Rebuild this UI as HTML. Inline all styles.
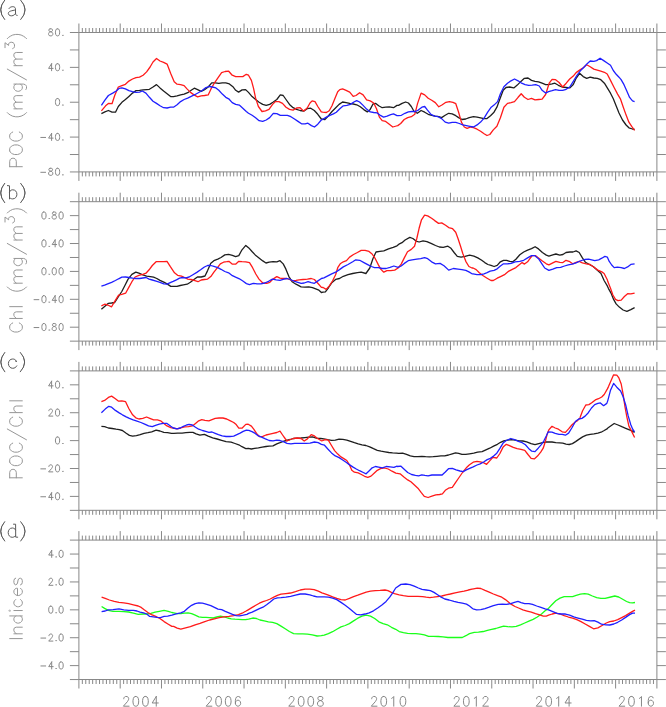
<!DOCTYPE html><html><head><meta charset="utf-8"><style>html,body{margin:0;padding:0;background:#fff;}svg{display:block;}text{font-family:"Liberation Sans",sans-serif;}</style></head><body>
<svg width="666" height="707" viewBox="0 0 666 707">
<rect width="666" height="707" fill="#fff"/>
<clipPath id="c0"><rect x="78.9" y="32.5" width="578.0" height="139.4"/></clipPath>
<g clip-path="url(#c0)" fill="none" stroke-width="1.3" stroke-linejoin="round" stroke-linecap="butt">
<path d="M101.4 113.6 L104.9 111.9 L108.4 110.5 L112.0 112.2 L115.5 112.2 L118.3 106.5 L121.9 102.3 L125.4 99.5 L128.9 96.4 L132.5 93.1 L136.0 90.6 L139.5 90.3 L143.1 89.9 L146.6 89.6 L149.4 89.3 L153.0 87.0 L156.5 84.6 L160.0 87.9 L163.6 91.0 L167.1 93.8 L170.6 96.6 L173.5 96.6 L177.1 95.9 L180.6 94.9 L184.1 94.2 L187.7 92.7 L191.2 90.3 L194.3 88.2 L197.6 89.6 L201.1 91.3 L204.6 89.6 L208.2 87.0 L211.7 82.8 L215.2 82.8 L218.8 83.4 L222.3 82.8 L225.8 82.8 L229.4 83.9 L232.9 86.7 L235.7 90.3 L238.6 92.1 L242.1 89.9 L245.6 89.6 L248.5 92.4 L252.1 96.6 L255.6 99.5 L259.1 102.3 L262.7 104.4 L266.2 105.4 L269.7 104.4 L273.3 102.0 L276.8 99.5 L280.3 94.9 L283.2 95.5 L286.0 99.5 L289.5 104.4 L293.1 107.7 L296.6 109.4 L300.1 110.5 L303.7 111.1 L307.2 108.7 L310.7 108.2 L314.3 110.5 L317.8 114.3 L321.3 119.0 L324.9 119.5 L328.5 115.7 L332.0 111.5 L335.5 108.0 L339.1 104.4 L342.6 102.0 L346.1 102.6 L349.7 103.4 L353.2 104.0 L356.7 104.8 L360.3 106.8 L363.8 109.6 L367.3 111.9 L370.2 109.4 L373.0 104.0 L375.8 103.4 L378.7 105.8 L382.2 107.7 L385.7 107.2 L389.3 106.8 L393.5 107.7 L397.0 105.4 L398.5 105.4 L402.1 103.4 L405.6 102.0 L408.4 103.0 L411.3 106.5 L414.1 111.5 L417.3 113.3 L421.1 110.5 L424.7 112.2 L428.2 114.3 L431.7 115.3 L435.3 116.1 L438.8 116.7 L441.6 117.6 L445.2 115.3 L448.7 113.3 L452.2 113.9 L455.8 115.7 L458.6 117.6 L462.1 119.5 L465.7 119.0 L469.2 117.6 L473.5 116.7 L477.1 117.1 L480.6 117.8 L484.1 118.7 L487.0 118.6 L490.5 115.7 L494.0 112.2 L496.9 107.2 L499.7 99.5 L503.2 90.3 L506.0 87.5 L509.6 87.0 L513.8 87.9 L517.3 85.1 L520.9 81.4 L524.4 78.3 L528.0 78.0 L531.5 80.4 L535.0 81.4 L538.6 81.8 L542.1 83.2 L545.6 84.6 L548.5 84.6 L552.1 83.9 L554.9 83.2 L558.4 85.3 L562.0 87.0 L566.2 87.5 L569.7 87.9 L573.3 84.6 L576.1 78.3 L579.6 73.3 L583.2 76.6 L586.7 78.3 L590.2 77.1 L593.8 78.0 L597.3 78.3 L600.8 79.7 L604.4 83.2 L610.5 93.2 L613.3 98.8 L616.2 105.9 L619.0 113.0 L622.5 120.0 L626.1 125.0 L628.9 127.8 L632.5 129.0 L634.6 129.5" stroke="#1e1e1e"/>
<path d="M101.4 110.8 L105.6 105.8 L108.4 103.4 L112.0 103.7 L114.8 95.2 L118.3 87.0 L121.9 85.6 L125.4 84.3 L128.9 81.1 L132.5 79.0 L136.0 77.6 L139.5 77.1 L143.1 75.2 L146.6 71.9 L150.1 67.0 L153.0 62.0 L156.5 58.5 L160.0 61.0 L163.6 62.4 L167.1 64.1 L170.6 73.3 L174.2 81.8 L177.1 84.2 L180.6 84.6 L184.1 85.6 L187.0 88.9 L190.5 92.4 L194.0 94.9 L197.6 96.9 L201.1 95.9 L204.6 95.5 L208.2 94.9 L211.0 88.9 L214.5 82.8 L218.1 77.6 L221.6 72.6 L225.1 71.5 L228.7 71.2 L232.2 75.2 L235.7 76.6 L239.3 76.6 L242.8 76.6 L246.3 74.3 L248.5 75.2 L251.4 80.4 L253.5 88.2 L255.6 98.1 L258.4 106.5 L262.0 111.5 L265.5 110.8 L269.0 109.4 L272.6 104.4 L275.4 101.6 L278.9 101.6 L282.5 103.4 L286.0 107.2 L289.5 109.4 L293.1 110.1 L296.6 108.0 L300.1 107.7 L303.7 111.1 L307.2 108.0 L310.0 103.0 L312.1 100.9 L315.0 101.6 L317.8 106.5 L321.3 111.9 L322.8 112.2 L326.4 112.5 L329.2 110.8 L332.0 105.8 L334.8 98.8 L337.7 91.7 L339.8 89.6 L342.6 88.9 L346.1 90.3 L349.7 92.1 L353.2 96.4 L356.0 95.5 L359.6 92.7 L363.1 94.9 L366.6 99.8 L370.2 100.9 L373.7 103.0 L376.5 108.7 L379.4 117.1 L382.2 120.7 L385.7 121.4 L389.3 124.2 L392.8 127.0 L396.3 126.0 L397.8 125.6 L400.7 123.5 L404.2 119.5 L407.7 117.6 L411.3 116.7 L414.8 114.3 L417.6 103.4 L421.1 93.1 L424.7 94.9 L428.2 98.3 L431.7 100.2 L435.3 102.6 L438.8 106.8 L442.3 104.8 L445.9 102.3 L449.4 101.6 L453.0 102.3 L455.8 103.7 L458.6 112.2 L461.4 122.1 L464.3 127.0 L467.1 128.4 L470.6 127.0 L473.5 127.7 L477.1 129.2 L480.6 131.3 L484.1 133.7 L487.0 135.5 L489.8 134.5 L493.3 129.9 L496.9 126.3 L500.4 117.8 L503.9 107.2 L507.5 103.4 L511.0 102.6 L514.5 101.6 L518.1 97.3 L521.2 93.8 L524.4 97.3 L528.0 99.5 L531.5 98.3 L535.0 99.8 L538.6 99.5 L542.1 99.2 L545.6 94.5 L549.2 83.2 L552.1 79.4 L555.6 79.7 L559.1 82.5 L562.7 87.0 L566.2 83.2 L569.7 79.0 L573.3 76.1 L576.1 72.6 L579.6 70.1 L583.2 67.7 L586.7 64.8 L590.2 66.7 L593.8 69.1 L597.3 70.1 L600.8 71.2 L604.4 72.3 L607.2 74.0 L610.5 80.4 L614.1 87.5 L617.6 94.1 L620.4 98.8 L623.3 107.3 L626.1 115.1 L628.9 122.2 L631.7 126.4 L634.6 130.4" stroke="#ff1a1a"/>
<path d="M101.4 105.4 L104.9 100.2 L108.4 95.5 L112.7 93.1 L116.2 91.0 L119.0 88.4 L121.9 87.9 L125.4 88.9 L128.9 90.7 L132.5 91.7 L136.0 92.4 L139.5 92.1 L142.3 91.0 L145.9 93.1 L149.4 97.3 L153.0 101.2 L156.5 103.4 L160.0 105.8 L163.6 107.7 L167.1 108.0 L170.6 107.2 L173.5 107.2 L177.1 104.8 L180.6 101.6 L184.1 99.5 L187.7 98.1 L191.2 96.4 L194.7 94.7 L198.3 92.7 L201.8 90.7 L205.3 87.9 L208.9 86.5 L212.4 87.0 L215.9 87.9 L218.8 90.3 L222.3 94.1 L225.8 97.3 L228.7 98.8 L232.2 102.6 L235.7 104.4 L239.3 105.1 L242.8 108.2 L246.3 111.5 L248.5 113.3 L252.1 115.3 L255.6 117.8 L259.1 120.7 L262.7 121.4 L266.2 120.0 L269.7 117.6 L273.3 113.3 L276.8 113.6 L280.3 115.3 L283.9 115.3 L287.4 115.3 L290.9 116.7 L294.5 119.0 L298.0 121.4 L301.5 123.8 L305.1 123.8 L307.9 123.2 L311.4 125.6 L314.5 127.0 L317.8 124.2 L321.3 120.0 L322.8 119.3 L326.4 117.1 L329.9 115.3 L333.4 113.9 L336.3 112.2 L339.8 108.7 L343.3 105.8 L346.9 105.4 L350.4 104.4 L353.9 102.0 L356.7 100.6 L359.6 102.0 L363.1 105.4 L366.6 109.1 L370.2 111.9 L373.7 112.5 L377.2 112.9 L380.8 115.7 L383.6 117.1 L387.1 116.1 L390.7 114.7 L393.5 113.9 L397.0 115.7 L398.5 115.7 L401.4 115.3 L404.9 113.3 L408.4 111.9 L412.0 111.5 L415.5 111.5 L418.3 110.1 L421.9 107.2 L424.7 106.5 L427.5 110.1 L431.0 114.3 L434.6 116.1 L438.1 116.7 L441.6 118.6 L445.2 122.1 L448.7 123.2 L452.2 122.4 L455.8 122.4 L459.3 123.5 L462.8 124.9 L466.4 125.6 L469.9 126.3 L473.5 127.0 L477.1 124.9 L480.6 122.1 L484.1 118.1 L487.7 112.2 L491.2 107.2 L494.0 105.1 L497.6 101.6 L500.4 93.8 L503.9 86.7 L507.5 83.2 L511.0 80.8 L514.5 79.0 L518.1 80.8 L521.6 83.2 L525.1 84.6 L528.7 85.3 L532.2 85.1 L535.7 84.6 L539.3 86.0 L542.1 90.3 L545.6 93.1 L548.5 91.7 L552.1 90.7 L555.6 89.6 L559.1 90.3 L562.7 90.3 L566.2 89.3 L569.7 87.0 L573.3 81.4 L576.8 75.7 L580.3 70.9 L583.9 67.2 L587.4 63.4 L590.2 61.0 L593.8 61.3 L596.6 60.6 L600.1 58.2 L603.7 60.6 L607.2 63.0 L610.5 65.3 L613.3 70.5 L616.2 74.3 L619.0 77.2 L621.1 79.7 L624.0 84.7 L626.8 91.0 L629.6 97.4 L632.5 100.9 L634.6 101.6" stroke="#1f1fff"/>
</g>
<path d="M78.9 32.5H656.9V171.9H78.9ZM78.90 32.5V23.5M78.90 171.9V180.9M82.34 32.5V28.0M82.34 171.9V176.4M85.78 32.5V28.0M85.78 171.9V176.4M89.22 32.5V28.0M89.22 171.9V176.4M92.66 32.5V28.0M92.66 171.9V176.4M96.10 32.5V28.0M96.10 171.9V176.4M99.54 32.5V28.0M99.54 171.9V176.4M102.98 32.5V28.0M102.98 171.9V176.4M106.42 32.5V28.0M106.42 171.9V176.4M109.86 32.5V28.0M109.86 171.9V176.4M113.30 32.5V28.0M113.30 171.9V176.4M116.75 32.5V28.0M116.75 171.9V176.4M120.19 32.5V23.5M120.19 171.9V180.9M123.63 32.5V28.0M123.63 171.9V176.4M127.07 32.5V28.0M127.07 171.9V176.4M130.51 32.5V28.0M130.51 171.9V176.4M133.95 32.5V28.0M133.95 171.9V176.4M137.39 32.5V28.0M137.39 171.9V176.4M140.83 32.5V28.0M140.83 171.9V176.4M144.27 32.5V28.0M144.27 171.9V176.4M147.71 32.5V28.0M147.71 171.9V176.4M151.15 32.5V28.0M151.15 171.9V176.4M154.59 32.5V28.0M154.59 171.9V176.4M158.03 32.5V28.0M158.03 171.9V176.4M161.47 32.5V23.5M161.47 171.9V180.9M164.91 32.5V28.0M164.91 171.9V176.4M168.35 32.5V28.0M168.35 171.9V176.4M171.79 32.5V28.0M171.79 171.9V176.4M175.23 32.5V28.0M175.23 171.9V176.4M178.67 32.5V28.0M178.67 171.9V176.4M182.11 32.5V28.0M182.11 171.9V176.4M185.55 32.5V28.0M185.55 171.9V176.4M189.00 32.5V28.0M189.00 171.9V176.4M192.44 32.5V28.0M192.44 171.9V176.4M195.88 32.5V28.0M195.88 171.9V176.4M199.32 32.5V28.0M199.32 171.9V176.4M202.76 32.5V23.5M202.76 171.9V180.9M206.20 32.5V28.0M206.20 171.9V176.4M209.64 32.5V28.0M209.64 171.9V176.4M213.08 32.5V28.0M213.08 171.9V176.4M216.52 32.5V28.0M216.52 171.9V176.4M219.96 32.5V28.0M219.96 171.9V176.4M223.40 32.5V28.0M223.40 171.9V176.4M226.84 32.5V28.0M226.84 171.9V176.4M230.28 32.5V28.0M230.28 171.9V176.4M233.72 32.5V28.0M233.72 171.9V176.4M237.16 32.5V28.0M237.16 171.9V176.4M240.60 32.5V28.0M240.60 171.9V176.4M244.04 32.5V23.5M244.04 171.9V180.9M247.48 32.5V28.0M247.48 171.9V176.4M250.92 32.5V28.0M250.92 171.9V176.4M254.36 32.5V28.0M254.36 171.9V176.4M257.80 32.5V28.0M257.80 171.9V176.4M261.25 32.5V28.0M261.25 171.9V176.4M264.69 32.5V28.0M264.69 171.9V176.4M268.13 32.5V28.0M268.13 171.9V176.4M271.57 32.5V28.0M271.57 171.9V176.4M275.01 32.5V28.0M275.01 171.9V176.4M278.45 32.5V28.0M278.45 171.9V176.4M281.89 32.5V28.0M281.89 171.9V176.4M285.33 32.5V23.5M285.33 171.9V180.9M288.77 32.5V28.0M288.77 171.9V176.4M292.21 32.5V28.0M292.21 171.9V176.4M295.65 32.5V28.0M295.65 171.9V176.4M299.09 32.5V28.0M299.09 171.9V176.4M302.53 32.5V28.0M302.53 171.9V176.4M305.97 32.5V28.0M305.97 171.9V176.4M309.41 32.5V28.0M309.41 171.9V176.4M312.85 32.5V28.0M312.85 171.9V176.4M316.29 32.5V28.0M316.29 171.9V176.4M319.73 32.5V28.0M319.73 171.9V176.4M323.17 32.5V28.0M323.17 171.9V176.4M326.61 32.5V23.5M326.61 171.9V180.9M330.05 32.5V28.0M330.05 171.9V176.4M333.50 32.5V28.0M333.50 171.9V176.4M336.94 32.5V28.0M336.94 171.9V176.4M340.38 32.5V28.0M340.38 171.9V176.4M343.82 32.5V28.0M343.82 171.9V176.4M347.26 32.5V28.0M347.26 171.9V176.4M350.70 32.5V28.0M350.70 171.9V176.4M354.14 32.5V28.0M354.14 171.9V176.4M357.58 32.5V28.0M357.58 171.9V176.4M361.02 32.5V28.0M361.02 171.9V176.4M364.46 32.5V28.0M364.46 171.9V176.4M367.90 32.5V23.5M367.90 171.9V180.9M371.34 32.5V28.0M371.34 171.9V176.4M374.78 32.5V28.0M374.78 171.9V176.4M378.22 32.5V28.0M378.22 171.9V176.4M381.66 32.5V28.0M381.66 171.9V176.4M385.10 32.5V28.0M385.10 171.9V176.4M388.54 32.5V28.0M388.54 171.9V176.4M391.98 32.5V28.0M391.98 171.9V176.4M395.42 32.5V28.0M395.42 171.9V176.4M398.86 32.5V28.0M398.86 171.9V176.4M402.30 32.5V28.0M402.30 171.9V176.4M405.75 32.5V28.0M405.75 171.9V176.4M409.19 32.5V23.5M409.19 171.9V180.9M412.63 32.5V28.0M412.63 171.9V176.4M416.07 32.5V28.0M416.07 171.9V176.4M419.51 32.5V28.0M419.51 171.9V176.4M422.95 32.5V28.0M422.95 171.9V176.4M426.39 32.5V28.0M426.39 171.9V176.4M429.83 32.5V28.0M429.83 171.9V176.4M433.27 32.5V28.0M433.27 171.9V176.4M436.71 32.5V28.0M436.71 171.9V176.4M440.15 32.5V28.0M440.15 171.9V176.4M443.59 32.5V28.0M443.59 171.9V176.4M447.03 32.5V28.0M447.03 171.9V176.4M450.47 32.5V23.5M450.47 171.9V180.9M453.91 32.5V28.0M453.91 171.9V176.4M457.35 32.5V28.0M457.35 171.9V176.4M460.79 32.5V28.0M460.79 171.9V176.4M464.23 32.5V28.0M464.23 171.9V176.4M467.67 32.5V28.0M467.67 171.9V176.4M471.11 32.5V28.0M471.11 171.9V176.4M474.55 32.5V28.0M474.55 171.9V176.4M478.00 32.5V28.0M478.00 171.9V176.4M481.44 32.5V28.0M481.44 171.9V176.4M484.88 32.5V28.0M484.88 171.9V176.4M488.32 32.5V28.0M488.32 171.9V176.4M491.76 32.5V23.5M491.76 171.9V180.9M495.20 32.5V28.0M495.20 171.9V176.4M498.64 32.5V28.0M498.64 171.9V176.4M502.08 32.5V28.0M502.08 171.9V176.4M505.52 32.5V28.0M505.52 171.9V176.4M508.96 32.5V28.0M508.96 171.9V176.4M512.40 32.5V28.0M512.40 171.9V176.4M515.84 32.5V28.0M515.84 171.9V176.4M519.28 32.5V28.0M519.28 171.9V176.4M522.72 32.5V28.0M522.72 171.9V176.4M526.16 32.5V28.0M526.16 171.9V176.4M529.60 32.5V28.0M529.60 171.9V176.4M533.04 32.5V23.5M533.04 171.9V180.9M536.48 32.5V28.0M536.48 171.9V176.4M539.92 32.5V28.0M539.92 171.9V176.4M543.36 32.5V28.0M543.36 171.9V176.4M546.80 32.5V28.0M546.80 171.9V176.4M550.25 32.5V28.0M550.25 171.9V176.4M553.69 32.5V28.0M553.69 171.9V176.4M557.13 32.5V28.0M557.13 171.9V176.4M560.57 32.5V28.0M560.57 171.9V176.4M564.01 32.5V28.0M564.01 171.9V176.4M567.45 32.5V28.0M567.45 171.9V176.4M570.89 32.5V28.0M570.89 171.9V176.4M574.33 32.5V23.5M574.33 171.9V180.9M577.77 32.5V28.0M577.77 171.9V176.4M581.21 32.5V28.0M581.21 171.9V176.4M584.65 32.5V28.0M584.65 171.9V176.4M588.09 32.5V28.0M588.09 171.9V176.4M591.53 32.5V28.0M591.53 171.9V176.4M594.97 32.5V28.0M594.97 171.9V176.4M598.41 32.5V28.0M598.41 171.9V176.4M601.85 32.5V28.0M601.85 171.9V176.4M605.29 32.5V28.0M605.29 171.9V176.4M608.73 32.5V28.0M608.73 171.9V176.4M612.17 32.5V28.0M612.17 171.9V176.4M615.61 32.5V23.5M615.61 171.9V180.9M619.05 32.5V28.0M619.05 171.9V176.4M622.50 32.5V28.0M622.50 171.9V176.4M625.94 32.5V28.0M625.94 171.9V176.4M629.38 32.5V28.0M629.38 171.9V176.4M632.82 32.5V28.0M632.82 171.9V176.4M636.26 32.5V28.0M636.26 171.9V176.4M639.70 32.5V28.0M639.70 171.9V176.4M643.14 32.5V28.0M643.14 171.9V176.4M646.58 32.5V28.0M646.58 171.9V176.4M650.02 32.5V28.0M650.02 171.9V176.4M653.46 32.5V28.0M653.46 171.9V176.4M656.90 32.5V23.5M656.90 171.9V180.9M78.9 32.50H69.9M656.9 32.50H665.9M78.9 49.93H69.9M656.9 49.93H665.9M78.9 67.36H69.9M656.9 67.36H665.9M78.9 84.79H69.9M656.9 84.79H665.9M78.9 102.22H69.9M656.9 102.22H665.9M78.9 119.66H69.9M656.9 119.66H665.9M78.9 137.09H69.9M656.9 137.09H665.9M78.9 154.52H69.9M656.9 154.52H665.9M78.9 171.95H69.9M656.9 171.95H665.9" fill="none" stroke="#888888" stroke-width="1.0"/>
<clipPath id="c1"><rect x="78.9" y="201.7" width="578.0" height="139.4"/></clipPath>
<g clip-path="url(#c1)" fill="none" stroke-width="1.3" stroke-linejoin="round" stroke-linecap="butt">
<path d="M101.4 309.3 L104.6 306.5 L108.4 303.3 L111.6 303.0 L114.7 302.5 L117.9 297.4 L121.8 291.5 L124.9 285.5 L128.1 279.1 L131.9 274.4 L135.8 272.1 L138.9 273.2 L142.8 274.9 L146.6 276.2 L150.4 276.6 L153.6 277.2 L156.8 278.5 L160.0 280.4 L163.8 282.1 L167.0 283.9 L170.8 286.4 L173.2 286.4 L177.0 286.4 L180.2 285.5 L183.4 284.9 L187.2 284.2 L190.4 282.3 L193.6 279.8 L197.4 277.0 L201.2 277.0 L205.0 276.0 L207.6 270.6 L210.8 263.2 L213.9 260.7 L217.8 259.1 L221.0 257.5 L224.8 254.9 L228.6 254.3 L232.4 255.3 L235.6 256.6 L238.8 255.6 L242.0 249.8 L245.8 245.4 L248.8 247.9 L252.0 251.5 L255.2 254.9 L259.0 257.9 L262.8 260.9 L266.0 263.0 L269.2 262.2 L273.0 261.7 L276.8 261.9 L280.0 260.7 L283.2 263.9 L285.8 268.9 L288.9 276.6 L292.1 281.7 L296.0 284.2 L301.1 286.8 L304.9 287.2 L308.7 286.8 L312.5 287.7 L315.7 288.9 L318.9 290.2 L321.4 292.5 L323.1 292.2 L325.4 291.8 L328.6 287.5 L331.7 282.8 L335.6 279.4 L339.5 278.5 L343.3 276.3 L348.0 274.7 L352.7 273.5 L357.4 272.7 L361.2 272.2 L365.9 273.5 L369.8 268.0 L372.9 258.7 L376.0 252.0 L379.9 251.4 L383.8 250.9 L388.5 248.9 L393.2 247.3 L397.0 245.8 L398.9 244.2 L402.0 242.7 L405.1 240.0 L409.8 237.4 L412.9 238.5 L416.0 241.1 L419.1 242.0 L423.0 240.8 L426.9 241.6 L431.6 243.6 L435.5 245.5 L439.4 247.0 L443.2 247.3 L447.9 246.2 L451.0 248.3 L454.1 252.5 L457.3 256.4 L461.1 257.1 L465.0 256.4 L469.7 255.1 L473.9 256.1 L477.8 257.9 L481.7 260.3 L484.8 262.6 L487.9 264.5 L491.0 265.4 L494.1 266.5 L497.2 265.4 L500.4 261.8 L503.5 260.3 L506.6 260.3 L509.7 261.3 L512.8 261.8 L515.9 259.2 L519.8 254.8 L523.7 252.0 L527.6 250.1 L531.5 248.6 L535.1 246.7 L538.5 248.9 L542.4 252.5 L546.3 255.1 L548.9 256.1 L552.8 254.8 L555.9 254.0 L559.8 255.1 L562.9 254.5 L566.0 252.5 L569.9 252.0 L573.0 252.0 L576.1 250.9 L579.2 252.5 L582.4 257.9 L585.5 262.3 L589.4 264.5 L593.2 266.5 L597.1 270.1 L601.0 273.5 L604.1 280.5 L607.3 285.9 L608.5 288.6 L611.0 293.1 L613.6 299.4 L616.1 303.9 L619.3 307.1 L623.1 310.0 L626.9 311.3 L630.8 309.6 L634.6 307.7" stroke="#1e1e1e"/>
<path d="M101.4 305.9 L104.6 304.2 L107.7 305.0 L111.6 306.8 L114.7 301.4 L118.6 295.1 L121.8 294.4 L125.6 293.2 L128.8 287.4 L131.9 281.7 L135.1 277.0 L138.9 275.3 L142.8 274.4 L146.0 273.2 L149.1 269.8 L152.3 265.5 L156.1 261.7 L160.0 261.6 L163.8 261.6 L167.0 261.3 L170.2 266.4 L174.5 272.8 L177.6 275.3 L181.5 276.2 L184.6 277.5 L187.8 279.1 L191.0 279.5 L194.2 280.4 L198.0 281.7 L201.2 280.0 L204.4 279.5 L207.6 279.1 L210.8 276.6 L213.9 272.1 L217.1 268.1 L220.3 263.9 L223.5 262.2 L226.7 261.7 L228.9 261.3 L232.4 264.2 L235.6 264.2 L238.8 261.3 L242.0 261.7 L245.8 261.9 L249.5 262.6 L252.6 267.7 L255.8 274.0 L259.0 279.1 L262.8 283.0 L266.7 283.3 L269.8 282.3 L273.0 279.1 L276.8 276.6 L280.0 278.2 L283.2 278.5 L286.4 278.5 L289.6 279.5 L292.8 280.8 L296.0 280.4 L299.1 279.8 L303.0 279.5 L307.4 279.1 L311.2 278.5 L314.4 279.5 L317.6 283.0 L321.4 287.4 L323.1 287.5 L326.2 289.4 L329.3 285.9 L332.5 281.0 L335.6 274.7 L337.9 267.3 L340.2 263.8 L343.3 261.8 L346.5 260.7 L349.6 257.1 L353.5 254.5 L357.4 252.5 L361.2 250.4 L365.1 250.4 L369.0 251.4 L372.1 254.0 L375.3 258.7 L378.4 264.9 L380.7 269.1 L383.8 272.2 L386.9 270.7 L390.8 270.7 L394.7 270.1 L398.1 268.0 L401.2 264.1 L404.3 257.9 L407.5 251.7 L411.3 249.4 L414.5 246.2 L416.8 238.5 L419.1 228.3 L421.5 219.8 L424.6 215.1 L427.7 215.9 L431.6 218.2 L434.7 220.6 L438.6 223.4 L441.7 222.9 L445.6 225.2 L448.7 227.6 L452.6 228.7 L455.7 232.2 L458.0 238.5 L460.4 245.8 L462.7 253.2 L465.8 261.3 L468.9 266.5 L472.0 268.0 L473.1 268.0 L476.2 269.6 L479.3 272.7 L483.2 275.8 L487.1 278.2 L491.0 280.5 L493.3 280.5 L497.2 278.2 L501.1 276.3 L505.0 274.3 L508.9 271.1 L512.8 269.1 L515.9 267.6 L519.0 264.9 L522.1 262.6 L524.5 264.1 L527.6 261.8 L529.9 258.7 L532.3 255.6 L535.4 255.6 L538.5 257.9 L542.4 261.0 L546.3 263.8 L548.9 264.9 L552.8 262.9 L555.9 261.3 L559.8 262.3 L562.9 262.6 L566.0 260.3 L569.1 261.3 L572.7 263.8 L576.1 262.3 L579.2 261.3 L582.4 262.9 L586.2 263.8 L590.1 264.5 L594.0 267.3 L597.9 270.1 L601.8 271.9 L604.1 273.5 L607.3 279.7 L607.8 281.6 L610.4 288.0 L612.9 295.0 L615.5 299.4 L618.0 300.7 L621.2 300.1 L624.4 296.5 L627.6 293.7 L630.8 293.9 L634.6 293.1" stroke="#ff1a1a"/>
<path d="M101.4 286.1 L104.6 285.1 L107.7 283.9 L111.6 282.3 L115.4 280.5 L118.6 278.8 L121.8 277.2 L125.6 277.0 L128.8 277.5 L132.6 278.2 L135.8 278.5 L139.6 278.5 L142.8 278.0 L146.0 277.5 L149.1 279.1 L152.3 280.0 L156.1 281.1 L160.0 282.3 L163.8 283.9 L167.0 284.2 L170.8 282.3 L173.2 281.3 L176.4 279.8 L179.6 278.2 L182.7 277.5 L185.9 277.9 L189.1 277.0 L192.9 274.7 L196.8 272.4 L200.6 269.8 L204.4 267.0 L207.6 265.5 L210.8 265.5 L213.9 266.4 L217.8 267.7 L221.0 269.3 L224.8 271.5 L228.6 272.8 L232.4 275.7 L235.6 277.2 L239.4 278.8 L243.2 281.3 L246.4 283.6 L249.5 284.6 L253.3 283.3 L257.1 283.9 L260.9 283.9 L264.7 283.0 L268.6 281.3 L272.4 279.1 L276.2 279.8 L280.0 280.4 L283.9 279.1 L287.0 278.5 L290.2 279.5 L294.0 281.1 L297.9 282.3 L301.1 283.3 L304.2 283.0 L308.1 281.7 L311.2 282.6 L314.4 283.3 L317.6 281.1 L321.4 278.5 L323.9 277.8 L327.8 275.8 L331.7 273.8 L335.6 272.2 L339.5 269.6 L343.3 266.9 L348.0 264.5 L352.7 261.8 L355.8 259.8 L359.7 260.3 L364.4 262.9 L368.2 264.9 L371.4 266.5 L374.5 267.6 L378.4 267.6 L382.3 268.5 L386.1 268.5 L390.0 267.3 L393.9 266.0 L398.1 267.3 L401.2 266.0 L404.3 263.4 L408.2 260.7 L412.1 259.8 L416.8 259.2 L420.7 258.7 L424.6 257.6 L427.7 258.7 L431.6 261.8 L435.5 263.8 L440.1 263.4 L444.0 265.7 L448.7 270.1 L453.4 268.5 L458.0 269.1 L461.9 269.6 L465.8 270.4 L468.9 271.9 L472.0 273.8 L473.1 273.8 L477.0 274.7 L480.9 274.7 L484.0 273.8 L487.1 272.7 L490.2 271.1 L494.1 270.4 L497.2 268.8 L500.4 266.0 L503.5 263.8 L507.4 263.8 L511.2 263.4 L515.1 261.8 L519.8 261.3 L523.7 260.3 L527.6 257.9 L531.5 255.6 L534.6 255.6 L538.5 258.7 L541.6 263.4 L544.7 268.0 L548.9 270.4 L552.8 269.1 L556.7 267.6 L560.6 267.3 L564.5 266.0 L568.3 264.9 L572.2 264.1 L576.1 262.9 L580.0 261.0 L584.7 259.5 L588.6 259.2 L591.7 259.8 L594.8 260.7 L598.7 259.8 L601.8 258.2 L604.9 256.4 L607.3 257.1 L609.1 261.2 L611.7 265.0 L614.2 267.6 L617.4 267.2 L621.2 267.6 L624.4 268.5 L627.6 266.9 L630.8 264.4 L634.6 263.8" stroke="#1f1fff"/>
</g>
<path d="M78.9 201.7H656.9V341.1H78.9ZM78.90 201.7V192.7M78.90 341.1V350.1M82.34 201.7V197.2M82.34 341.1V345.6M85.78 201.7V197.2M85.78 341.1V345.6M89.22 201.7V197.2M89.22 341.1V345.6M92.66 201.7V197.2M92.66 341.1V345.6M96.10 201.7V197.2M96.10 341.1V345.6M99.54 201.7V197.2M99.54 341.1V345.6M102.98 201.7V197.2M102.98 341.1V345.6M106.42 201.7V197.2M106.42 341.1V345.6M109.86 201.7V197.2M109.86 341.1V345.6M113.30 201.7V197.2M113.30 341.1V345.6M116.75 201.7V197.2M116.75 341.1V345.6M120.19 201.7V192.7M120.19 341.1V350.1M123.63 201.7V197.2M123.63 341.1V345.6M127.07 201.7V197.2M127.07 341.1V345.6M130.51 201.7V197.2M130.51 341.1V345.6M133.95 201.7V197.2M133.95 341.1V345.6M137.39 201.7V197.2M137.39 341.1V345.6M140.83 201.7V197.2M140.83 341.1V345.6M144.27 201.7V197.2M144.27 341.1V345.6M147.71 201.7V197.2M147.71 341.1V345.6M151.15 201.7V197.2M151.15 341.1V345.6M154.59 201.7V197.2M154.59 341.1V345.6M158.03 201.7V197.2M158.03 341.1V345.6M161.47 201.7V192.7M161.47 341.1V350.1M164.91 201.7V197.2M164.91 341.1V345.6M168.35 201.7V197.2M168.35 341.1V345.6M171.79 201.7V197.2M171.79 341.1V345.6M175.23 201.7V197.2M175.23 341.1V345.6M178.67 201.7V197.2M178.67 341.1V345.6M182.11 201.7V197.2M182.11 341.1V345.6M185.55 201.7V197.2M185.55 341.1V345.6M189.00 201.7V197.2M189.00 341.1V345.6M192.44 201.7V197.2M192.44 341.1V345.6M195.88 201.7V197.2M195.88 341.1V345.6M199.32 201.7V197.2M199.32 341.1V345.6M202.76 201.7V192.7M202.76 341.1V350.1M206.20 201.7V197.2M206.20 341.1V345.6M209.64 201.7V197.2M209.64 341.1V345.6M213.08 201.7V197.2M213.08 341.1V345.6M216.52 201.7V197.2M216.52 341.1V345.6M219.96 201.7V197.2M219.96 341.1V345.6M223.40 201.7V197.2M223.40 341.1V345.6M226.84 201.7V197.2M226.84 341.1V345.6M230.28 201.7V197.2M230.28 341.1V345.6M233.72 201.7V197.2M233.72 341.1V345.6M237.16 201.7V197.2M237.16 341.1V345.6M240.60 201.7V197.2M240.60 341.1V345.6M244.04 201.7V192.7M244.04 341.1V350.1M247.48 201.7V197.2M247.48 341.1V345.6M250.92 201.7V197.2M250.92 341.1V345.6M254.36 201.7V197.2M254.36 341.1V345.6M257.80 201.7V197.2M257.80 341.1V345.6M261.25 201.7V197.2M261.25 341.1V345.6M264.69 201.7V197.2M264.69 341.1V345.6M268.13 201.7V197.2M268.13 341.1V345.6M271.57 201.7V197.2M271.57 341.1V345.6M275.01 201.7V197.2M275.01 341.1V345.6M278.45 201.7V197.2M278.45 341.1V345.6M281.89 201.7V197.2M281.89 341.1V345.6M285.33 201.7V192.7M285.33 341.1V350.1M288.77 201.7V197.2M288.77 341.1V345.6M292.21 201.7V197.2M292.21 341.1V345.6M295.65 201.7V197.2M295.65 341.1V345.6M299.09 201.7V197.2M299.09 341.1V345.6M302.53 201.7V197.2M302.53 341.1V345.6M305.97 201.7V197.2M305.97 341.1V345.6M309.41 201.7V197.2M309.41 341.1V345.6M312.85 201.7V197.2M312.85 341.1V345.6M316.29 201.7V197.2M316.29 341.1V345.6M319.73 201.7V197.2M319.73 341.1V345.6M323.17 201.7V197.2M323.17 341.1V345.6M326.61 201.7V192.7M326.61 341.1V350.1M330.05 201.7V197.2M330.05 341.1V345.6M333.50 201.7V197.2M333.50 341.1V345.6M336.94 201.7V197.2M336.94 341.1V345.6M340.38 201.7V197.2M340.38 341.1V345.6M343.82 201.7V197.2M343.82 341.1V345.6M347.26 201.7V197.2M347.26 341.1V345.6M350.70 201.7V197.2M350.70 341.1V345.6M354.14 201.7V197.2M354.14 341.1V345.6M357.58 201.7V197.2M357.58 341.1V345.6M361.02 201.7V197.2M361.02 341.1V345.6M364.46 201.7V197.2M364.46 341.1V345.6M367.90 201.7V192.7M367.90 341.1V350.1M371.34 201.7V197.2M371.34 341.1V345.6M374.78 201.7V197.2M374.78 341.1V345.6M378.22 201.7V197.2M378.22 341.1V345.6M381.66 201.7V197.2M381.66 341.1V345.6M385.10 201.7V197.2M385.10 341.1V345.6M388.54 201.7V197.2M388.54 341.1V345.6M391.98 201.7V197.2M391.98 341.1V345.6M395.42 201.7V197.2M395.42 341.1V345.6M398.86 201.7V197.2M398.86 341.1V345.6M402.30 201.7V197.2M402.30 341.1V345.6M405.75 201.7V197.2M405.75 341.1V345.6M409.19 201.7V192.7M409.19 341.1V350.1M412.63 201.7V197.2M412.63 341.1V345.6M416.07 201.7V197.2M416.07 341.1V345.6M419.51 201.7V197.2M419.51 341.1V345.6M422.95 201.7V197.2M422.95 341.1V345.6M426.39 201.7V197.2M426.39 341.1V345.6M429.83 201.7V197.2M429.83 341.1V345.6M433.27 201.7V197.2M433.27 341.1V345.6M436.71 201.7V197.2M436.71 341.1V345.6M440.15 201.7V197.2M440.15 341.1V345.6M443.59 201.7V197.2M443.59 341.1V345.6M447.03 201.7V197.2M447.03 341.1V345.6M450.47 201.7V192.7M450.47 341.1V350.1M453.91 201.7V197.2M453.91 341.1V345.6M457.35 201.7V197.2M457.35 341.1V345.6M460.79 201.7V197.2M460.79 341.1V345.6M464.23 201.7V197.2M464.23 341.1V345.6M467.67 201.7V197.2M467.67 341.1V345.6M471.11 201.7V197.2M471.11 341.1V345.6M474.55 201.7V197.2M474.55 341.1V345.6M478.00 201.7V197.2M478.00 341.1V345.6M481.44 201.7V197.2M481.44 341.1V345.6M484.88 201.7V197.2M484.88 341.1V345.6M488.32 201.7V197.2M488.32 341.1V345.6M491.76 201.7V192.7M491.76 341.1V350.1M495.20 201.7V197.2M495.20 341.1V345.6M498.64 201.7V197.2M498.64 341.1V345.6M502.08 201.7V197.2M502.08 341.1V345.6M505.52 201.7V197.2M505.52 341.1V345.6M508.96 201.7V197.2M508.96 341.1V345.6M512.40 201.7V197.2M512.40 341.1V345.6M515.84 201.7V197.2M515.84 341.1V345.6M519.28 201.7V197.2M519.28 341.1V345.6M522.72 201.7V197.2M522.72 341.1V345.6M526.16 201.7V197.2M526.16 341.1V345.6M529.60 201.7V197.2M529.60 341.1V345.6M533.04 201.7V192.7M533.04 341.1V350.1M536.48 201.7V197.2M536.48 341.1V345.6M539.92 201.7V197.2M539.92 341.1V345.6M543.36 201.7V197.2M543.36 341.1V345.6M546.80 201.7V197.2M546.80 341.1V345.6M550.25 201.7V197.2M550.25 341.1V345.6M553.69 201.7V197.2M553.69 341.1V345.6M557.13 201.7V197.2M557.13 341.1V345.6M560.57 201.7V197.2M560.57 341.1V345.6M564.01 201.7V197.2M564.01 341.1V345.6M567.45 201.7V197.2M567.45 341.1V345.6M570.89 201.7V197.2M570.89 341.1V345.6M574.33 201.7V192.7M574.33 341.1V350.1M577.77 201.7V197.2M577.77 341.1V345.6M581.21 201.7V197.2M581.21 341.1V345.6M584.65 201.7V197.2M584.65 341.1V345.6M588.09 201.7V197.2M588.09 341.1V345.6M591.53 201.7V197.2M591.53 341.1V345.6M594.97 201.7V197.2M594.97 341.1V345.6M598.41 201.7V197.2M598.41 341.1V345.6M601.85 201.7V197.2M601.85 341.1V345.6M605.29 201.7V197.2M605.29 341.1V345.6M608.73 201.7V197.2M608.73 341.1V345.6M612.17 201.7V197.2M612.17 341.1V345.6M615.61 201.7V192.7M615.61 341.1V350.1M619.05 201.7V197.2M619.05 341.1V345.6M622.50 201.7V197.2M622.50 341.1V345.6M625.94 201.7V197.2M625.94 341.1V345.6M629.38 201.7V197.2M629.38 341.1V345.6M632.82 201.7V197.2M632.82 341.1V345.6M636.26 201.7V197.2M636.26 341.1V345.6M639.70 201.7V197.2M639.70 341.1V345.6M643.14 201.7V197.2M643.14 341.1V345.6M646.58 201.7V197.2M646.58 341.1V345.6M650.02 201.7V197.2M650.02 341.1V345.6M653.46 201.7V197.2M653.46 341.1V345.6M656.90 201.7V192.7M656.90 341.1V350.1M78.9 201.70H69.9M656.9 201.70H665.9M78.9 215.64H69.9M656.9 215.64H665.9M78.9 229.59H69.9M656.9 229.59H665.9M78.9 243.53H69.9M656.9 243.53H665.9M78.9 257.48H69.9M656.9 257.48H665.9M78.9 271.42H69.9M656.9 271.42H665.9M78.9 285.37H69.9M656.9 285.37H665.9M78.9 299.31H69.9M656.9 299.31H665.9M78.9 313.26H69.9M656.9 313.26H665.9M78.9 327.20H69.9M656.9 327.20H665.9M78.9 341.15H69.9M656.9 341.15H665.9" fill="none" stroke="#888888" stroke-width="1.0"/>
<clipPath id="c2"><rect x="78.9" y="370.9" width="578.0" height="139.4"/></clipPath>
<g clip-path="url(#c2)" fill="none" stroke-width="1.3" stroke-linejoin="round" stroke-linecap="butt">
<path d="M101.4 426.3 L104.6 426.7 L108.4 428.0 L112.2 428.5 L116.0 429.2 L119.2 429.7 L122.4 430.5 L126.2 433.3 L129.4 435.4 L132.6 436.1 L136.4 435.6 L140.2 434.6 L144.0 433.3 L147.9 432.7 L151.7 431.8 L156.1 430.1 L160.0 431.0 L163.8 432.3 L167.6 432.7 L171.4 433.3 L173.8 433.3 L177.6 433.1 L182.1 433.1 L185.9 432.7 L189.7 432.3 L192.9 432.3 L196.1 433.9 L199.9 435.2 L204.4 434.3 L208.2 436.1 L212.7 437.8 L217.1 439.0 L221.6 440.3 L226.1 441.6 L231.1 442.2 L235.0 443.5 L238.8 444.8 L242.0 446.7 L245.8 448.6 L248.2 448.4 L251.4 449.0 L254.6 448.4 L258.4 447.8 L262.2 447.1 L266.0 446.5 L269.2 446.1 L273.0 445.9 L276.8 443.9 L280.0 442.7 L283.2 441.4 L286.4 440.5 L290.2 439.5 L293.4 438.5 L297.2 438.2 L301.1 438.0 L304.9 437.6 L308.7 437.2 L312.5 436.9 L316.3 438.2 L320.8 438.5 L323.8 438.9 L327.6 439.7 L331.5 440.4 L335.3 440.1 L339.1 439.1 L342.9 439.4 L346.8 440.1 L350.6 441.4 L354.4 442.7 L358.2 443.9 L362.0 444.8 L365.9 445.5 L369.7 446.8 L373.5 448.7 L377.3 450.3 L381.1 451.2 L385.0 451.8 L388.8 452.5 L392.6 452.9 L396.4 453.1 L398.8 453.4 L402.6 453.1 L406.5 454.4 L410.3 455.9 L414.1 456.7 L417.9 456.7 L421.8 456.3 L425.6 456.7 L429.4 456.9 L433.2 456.7 L437.0 456.3 L440.9 455.9 L444.7 455.9 L448.5 455.0 L452.3 453.8 L455.5 452.9 L458.7 453.4 L461.9 454.4 L465.7 454.4 L469.5 453.8 L473.8 453.2 L477.6 452.2 L482.1 451.6 L485.9 449.9 L489.7 448.2 L493.6 446.1 L497.4 444.3 L500.6 442.3 L503.8 440.8 L507.6 440.1 L511.4 439.7 L515.2 440.1 L519.0 440.8 L522.9 441.0 L526.7 441.8 L531.1 443.6 L535.0 444.6 L538.8 443.6 L542.6 442.7 L546.4 442.0 L548.8 442.0 L552.0 442.0 L555.8 442.6 L559.6 442.9 L562.8 443.2 L566.0 444.1 L569.2 444.5 L572.4 443.6 L575.6 441.6 L578.8 439.4 L582.6 436.9 L586.4 435.2 L590.2 434.3 L594.0 433.9 L597.9 433.1 L601.1 432.2 L604.2 430.5 L607.4 428.6 L607.8 428.0 L611.0 425.8 L614.2 423.5 L618.0 425.0 L621.8 426.7 L625.7 428.3 L629.5 429.9 L632.0 430.9 L634.6 432.4" stroke="#1e1e1e"/>
<path d="M101.4 401.7 L104.6 400.4 L108.4 397.4 L111.6 396.1 L115.4 398.7 L118.6 401.2 L121.8 400.8 L125.6 401.7 L128.8 408.5 L132.6 414.8 L135.8 417.8 L138.9 419.0 L142.8 418.3 L146.6 417.0 L149.8 418.3 L153.6 419.9 L157.4 419.9 L160.6 420.8 L163.8 423.4 L167.0 425.9 L170.8 427.6 L173.2 428.0 L177.0 428.9 L180.8 428.0 L184.6 426.9 L188.5 426.7 L192.3 425.9 L195.5 423.4 L198.7 420.8 L201.8 419.6 L205.0 420.3 L208.9 420.8 L212.0 419.6 L215.2 418.3 L219.0 418.0 L222.9 418.0 L226.7 419.0 L229.9 420.6 L233.7 422.5 L236.2 424.6 L238.8 428.2 L242.0 428.2 L245.8 424.4 L248.2 424.2 L251.4 426.1 L253.9 429.3 L256.5 433.4 L259.6 436.7 L262.8 436.3 L266.0 435.0 L269.8 434.1 L273.0 433.4 L276.8 432.5 L280.0 431.2 L282.6 435.0 L285.1 438.5 L287.0 441.0 L290.2 439.5 L293.4 438.5 L297.2 438.0 L301.1 438.5 L304.2 441.0 L307.4 438.9 L311.2 434.6 L314.4 435.9 L317.6 438.5 L321.4 440.8 L322.5 440.6 L325.1 439.7 L328.3 440.1 L331.5 445.5 L334.6 450.6 L337.8 454.1 L341.0 456.9 L344.2 458.9 L346.8 460.5 L349.3 464.6 L351.8 470.3 L354.4 472.2 L358.2 472.9 L361.4 474.5 L364.6 476.3 L367.8 477.3 L371.0 476.1 L374.1 473.2 L377.3 470.3 L380.5 468.7 L384.3 467.8 L388.2 469.0 L392.0 471.2 L395.8 473.2 L400.1 473.8 L403.9 477.1 L407.7 479.9 L410.9 481.8 L414.7 485.2 L417.9 488.2 L421.1 492.4 L424.3 496.4 L428.1 497.5 L431.9 496.2 L435.8 494.9 L439.6 494.5 L442.4 493.9 L445.3 490.3 L448.5 488.2 L452.3 487.3 L455.5 482.7 L458.7 478.0 L462.5 472.5 L466.3 467.8 L469.5 464.8 L473.2 462.2 L477.0 461.4 L480.2 461.8 L483.4 462.7 L486.6 464.3 L489.7 460.9 L492.9 457.3 L496.8 458.0 L499.9 453.5 L503.1 447.1 L506.3 444.3 L509.5 445.6 L513.3 447.4 L517.1 448.7 L521.0 449.4 L524.8 450.3 L528.0 454.5 L531.1 458.3 L534.3 458.9 L537.5 456.1 L540.7 452.2 L543.2 448.2 L545.2 442.0 L547.1 434.4 L548.8 429.9 L552.0 426.3 L555.2 428.0 L558.4 429.2 L562.2 431.8 L565.4 432.4 L568.6 428.9 L571.8 425.0 L574.9 422.2 L577.5 420.7 L580.0 417.8 L582.6 410.8 L585.8 405.0 L588.9 404.6 L592.1 402.5 L595.3 399.9 L598.5 398.7 L601.7 397.0 L604.2 394.5 L607.4 388.9 L608.5 386.6 L611.0 380.8 L613.6 374.8 L616.8 375.1 L618.7 377.6 L621.2 384.0 L623.1 394.2 L625.0 406.9 L626.9 417.1 L628.9 426.1 L631.4 430.9 L634.6 437.5" stroke="#ff1a1a"/>
<path d="M101.4 412.7 L105.2 409.1 L108.8 406.3 L111.6 407.2 L115.4 410.4 L119.2 412.9 L122.4 414.8 L126.2 416.8 L129.4 418.3 L133.2 419.9 L137.0 421.2 L140.9 422.5 L144.7 424.1 L148.5 425.9 L152.3 426.7 L155.5 425.4 L159.3 424.1 L163.2 423.4 L167.0 423.4 L170.8 426.3 L173.2 428.0 L177.0 428.9 L180.2 428.0 L183.4 426.3 L186.6 425.0 L189.1 424.4 L192.3 425.0 L195.5 427.2 L198.7 429.2 L202.5 430.5 L205.7 431.4 L208.9 432.3 L212.0 432.0 L215.2 433.3 L218.4 434.6 L222.2 435.9 L226.1 436.5 L229.9 436.5 L233.7 436.1 L236.9 434.6 L240.1 433.1 L243.2 431.4 L246.4 430.1 L248.8 430.3 L252.0 431.6 L255.2 433.4 L258.4 435.9 L261.6 437.2 L265.4 438.9 L269.2 440.5 L273.0 440.8 L276.8 440.1 L280.0 440.5 L283.9 441.8 L287.0 443.3 L290.9 443.9 L294.7 443.3 L298.5 443.3 L302.3 443.3 L306.1 443.3 L310.0 443.1 L314.4 442.0 L318.2 442.7 L321.4 444.3 L324.5 445.2 L327.6 448.7 L331.5 452.9 L335.3 455.9 L339.1 457.6 L342.3 459.7 L346.1 462.3 L349.3 464.6 L353.1 467.1 L356.3 469.0 L359.5 470.7 L363.3 472.5 L366.1 473.8 L369.0 471.0 L372.2 467.8 L375.4 466.5 L378.6 467.1 L382.4 467.8 L386.2 466.5 L390.1 466.9 L393.9 467.4 L397.1 466.1 L397.5 466.5 L400.7 466.1 L403.9 469.0 L407.7 472.5 L411.6 474.5 L415.4 475.4 L418.6 475.8 L421.8 474.8 L424.9 475.4 L428.1 475.8 L431.9 475.0 L435.8 475.0 L438.9 475.0 L442.1 475.0 L445.3 472.0 L448.5 468.7 L452.3 468.4 L456.1 469.9 L460.0 471.0 L463.2 471.6 L466.3 469.9 L470.2 468.2 L473.2 466.9 L477.0 465.0 L480.2 463.9 L484.0 461.8 L487.2 459.6 L490.4 458.3 L493.6 456.1 L496.8 453.2 L499.9 448.4 L503.1 443.1 L506.3 440.5 L510.8 438.5 L514.6 439.7 L518.4 441.4 L522.2 442.7 L525.4 444.8 L528.6 448.4 L531.8 451.2 L535.0 451.6 L538.2 448.2 L541.3 444.6 L543.9 440.8 L546.4 435.7 L548.2 431.8 L552.0 432.2 L555.2 433.4 L559.0 434.3 L562.2 434.3 L565.4 435.2 L568.6 433.1 L571.8 428.0 L575.6 421.2 L578.8 419.0 L581.9 418.4 L585.1 416.1 L588.3 412.7 L591.5 408.0 L594.7 404.6 L597.9 403.4 L600.4 402.9 L603.6 405.7 L606.8 403.4 L607.8 400.6 L610.4 390.6 L613.6 383.4 L616.8 387.2 L620.6 391.0 L623.1 396.8 L625.7 405.0 L628.2 415.9 L630.8 424.8 L632.7 429.2 L634.6 431.8" stroke="#1f1fff"/>
</g>
<path d="M78.9 370.9H656.9V510.3H78.9ZM78.90 370.9V361.9M78.90 510.3V519.3M82.34 370.9V366.4M82.34 510.3V514.8M85.78 370.9V366.4M85.78 510.3V514.8M89.22 370.9V366.4M89.22 510.3V514.8M92.66 370.9V366.4M92.66 510.3V514.8M96.10 370.9V366.4M96.10 510.3V514.8M99.54 370.9V366.4M99.54 510.3V514.8M102.98 370.9V366.4M102.98 510.3V514.8M106.42 370.9V366.4M106.42 510.3V514.8M109.86 370.9V366.4M109.86 510.3V514.8M113.30 370.9V366.4M113.30 510.3V514.8M116.75 370.9V366.4M116.75 510.3V514.8M120.19 370.9V361.9M120.19 510.3V519.3M123.63 370.9V366.4M123.63 510.3V514.8M127.07 370.9V366.4M127.07 510.3V514.8M130.51 370.9V366.4M130.51 510.3V514.8M133.95 370.9V366.4M133.95 510.3V514.8M137.39 370.9V366.4M137.39 510.3V514.8M140.83 370.9V366.4M140.83 510.3V514.8M144.27 370.9V366.4M144.27 510.3V514.8M147.71 370.9V366.4M147.71 510.3V514.8M151.15 370.9V366.4M151.15 510.3V514.8M154.59 370.9V366.4M154.59 510.3V514.8M158.03 370.9V366.4M158.03 510.3V514.8M161.47 370.9V361.9M161.47 510.3V519.3M164.91 370.9V366.4M164.91 510.3V514.8M168.35 370.9V366.4M168.35 510.3V514.8M171.79 370.9V366.4M171.79 510.3V514.8M175.23 370.9V366.4M175.23 510.3V514.8M178.67 370.9V366.4M178.67 510.3V514.8M182.11 370.9V366.4M182.11 510.3V514.8M185.55 370.9V366.4M185.55 510.3V514.8M189.00 370.9V366.4M189.00 510.3V514.8M192.44 370.9V366.4M192.44 510.3V514.8M195.88 370.9V366.4M195.88 510.3V514.8M199.32 370.9V366.4M199.32 510.3V514.8M202.76 370.9V361.9M202.76 510.3V519.3M206.20 370.9V366.4M206.20 510.3V514.8M209.64 370.9V366.4M209.64 510.3V514.8M213.08 370.9V366.4M213.08 510.3V514.8M216.52 370.9V366.4M216.52 510.3V514.8M219.96 370.9V366.4M219.96 510.3V514.8M223.40 370.9V366.4M223.40 510.3V514.8M226.84 370.9V366.4M226.84 510.3V514.8M230.28 370.9V366.4M230.28 510.3V514.8M233.72 370.9V366.4M233.72 510.3V514.8M237.16 370.9V366.4M237.16 510.3V514.8M240.60 370.9V366.4M240.60 510.3V514.8M244.04 370.9V361.9M244.04 510.3V519.3M247.48 370.9V366.4M247.48 510.3V514.8M250.92 370.9V366.4M250.92 510.3V514.8M254.36 370.9V366.4M254.36 510.3V514.8M257.80 370.9V366.4M257.80 510.3V514.8M261.25 370.9V366.4M261.25 510.3V514.8M264.69 370.9V366.4M264.69 510.3V514.8M268.13 370.9V366.4M268.13 510.3V514.8M271.57 370.9V366.4M271.57 510.3V514.8M275.01 370.9V366.4M275.01 510.3V514.8M278.45 370.9V366.4M278.45 510.3V514.8M281.89 370.9V366.4M281.89 510.3V514.8M285.33 370.9V361.9M285.33 510.3V519.3M288.77 370.9V366.4M288.77 510.3V514.8M292.21 370.9V366.4M292.21 510.3V514.8M295.65 370.9V366.4M295.65 510.3V514.8M299.09 370.9V366.4M299.09 510.3V514.8M302.53 370.9V366.4M302.53 510.3V514.8M305.97 370.9V366.4M305.97 510.3V514.8M309.41 370.9V366.4M309.41 510.3V514.8M312.85 370.9V366.4M312.85 510.3V514.8M316.29 370.9V366.4M316.29 510.3V514.8M319.73 370.9V366.4M319.73 510.3V514.8M323.17 370.9V366.4M323.17 510.3V514.8M326.61 370.9V361.9M326.61 510.3V519.3M330.05 370.9V366.4M330.05 510.3V514.8M333.50 370.9V366.4M333.50 510.3V514.8M336.94 370.9V366.4M336.94 510.3V514.8M340.38 370.9V366.4M340.38 510.3V514.8M343.82 370.9V366.4M343.82 510.3V514.8M347.26 370.9V366.4M347.26 510.3V514.8M350.70 370.9V366.4M350.70 510.3V514.8M354.14 370.9V366.4M354.14 510.3V514.8M357.58 370.9V366.4M357.58 510.3V514.8M361.02 370.9V366.4M361.02 510.3V514.8M364.46 370.9V366.4M364.46 510.3V514.8M367.90 370.9V361.9M367.90 510.3V519.3M371.34 370.9V366.4M371.34 510.3V514.8M374.78 370.9V366.4M374.78 510.3V514.8M378.22 370.9V366.4M378.22 510.3V514.8M381.66 370.9V366.4M381.66 510.3V514.8M385.10 370.9V366.4M385.10 510.3V514.8M388.54 370.9V366.4M388.54 510.3V514.8M391.98 370.9V366.4M391.98 510.3V514.8M395.42 370.9V366.4M395.42 510.3V514.8M398.86 370.9V366.4M398.86 510.3V514.8M402.30 370.9V366.4M402.30 510.3V514.8M405.75 370.9V366.4M405.75 510.3V514.8M409.19 370.9V361.9M409.19 510.3V519.3M412.63 370.9V366.4M412.63 510.3V514.8M416.07 370.9V366.4M416.07 510.3V514.8M419.51 370.9V366.4M419.51 510.3V514.8M422.95 370.9V366.4M422.95 510.3V514.8M426.39 370.9V366.4M426.39 510.3V514.8M429.83 370.9V366.4M429.83 510.3V514.8M433.27 370.9V366.4M433.27 510.3V514.8M436.71 370.9V366.4M436.71 510.3V514.8M440.15 370.9V366.4M440.15 510.3V514.8M443.59 370.9V366.4M443.59 510.3V514.8M447.03 370.9V366.4M447.03 510.3V514.8M450.47 370.9V361.9M450.47 510.3V519.3M453.91 370.9V366.4M453.91 510.3V514.8M457.35 370.9V366.4M457.35 510.3V514.8M460.79 370.9V366.4M460.79 510.3V514.8M464.23 370.9V366.4M464.23 510.3V514.8M467.67 370.9V366.4M467.67 510.3V514.8M471.11 370.9V366.4M471.11 510.3V514.8M474.55 370.9V366.4M474.55 510.3V514.8M478.00 370.9V366.4M478.00 510.3V514.8M481.44 370.9V366.4M481.44 510.3V514.8M484.88 370.9V366.4M484.88 510.3V514.8M488.32 370.9V366.4M488.32 510.3V514.8M491.76 370.9V361.9M491.76 510.3V519.3M495.20 370.9V366.4M495.20 510.3V514.8M498.64 370.9V366.4M498.64 510.3V514.8M502.08 370.9V366.4M502.08 510.3V514.8M505.52 370.9V366.4M505.52 510.3V514.8M508.96 370.9V366.4M508.96 510.3V514.8M512.40 370.9V366.4M512.40 510.3V514.8M515.84 370.9V366.4M515.84 510.3V514.8M519.28 370.9V366.4M519.28 510.3V514.8M522.72 370.9V366.4M522.72 510.3V514.8M526.16 370.9V366.4M526.16 510.3V514.8M529.60 370.9V366.4M529.60 510.3V514.8M533.04 370.9V361.9M533.04 510.3V519.3M536.48 370.9V366.4M536.48 510.3V514.8M539.92 370.9V366.4M539.92 510.3V514.8M543.36 370.9V366.4M543.36 510.3V514.8M546.80 370.9V366.4M546.80 510.3V514.8M550.25 370.9V366.4M550.25 510.3V514.8M553.69 370.9V366.4M553.69 510.3V514.8M557.13 370.9V366.4M557.13 510.3V514.8M560.57 370.9V366.4M560.57 510.3V514.8M564.01 370.9V366.4M564.01 510.3V514.8M567.45 370.9V366.4M567.45 510.3V514.8M570.89 370.9V366.4M570.89 510.3V514.8M574.33 370.9V361.9M574.33 510.3V519.3M577.77 370.9V366.4M577.77 510.3V514.8M581.21 370.9V366.4M581.21 510.3V514.8M584.65 370.9V366.4M584.65 510.3V514.8M588.09 370.9V366.4M588.09 510.3V514.8M591.53 370.9V366.4M591.53 510.3V514.8M594.97 370.9V366.4M594.97 510.3V514.8M598.41 370.9V366.4M598.41 510.3V514.8M601.85 370.9V366.4M601.85 510.3V514.8M605.29 370.9V366.4M605.29 510.3V514.8M608.73 370.9V366.4M608.73 510.3V514.8M612.17 370.9V366.4M612.17 510.3V514.8M615.61 370.9V361.9M615.61 510.3V519.3M619.05 370.9V366.4M619.05 510.3V514.8M622.50 370.9V366.4M622.50 510.3V514.8M625.94 370.9V366.4M625.94 510.3V514.8M629.38 370.9V366.4M629.38 510.3V514.8M632.82 370.9V366.4M632.82 510.3V514.8M636.26 370.9V366.4M636.26 510.3V514.8M639.70 370.9V366.4M639.70 510.3V514.8M643.14 370.9V366.4M643.14 510.3V514.8M646.58 370.9V366.4M646.58 510.3V514.8M650.02 370.9V366.4M650.02 510.3V514.8M653.46 370.9V366.4M653.46 510.3V514.8M656.90 370.9V361.9M656.90 510.3V519.3M78.9 370.90H69.9M656.9 370.90H665.9M78.9 384.84H69.9M656.9 384.84H665.9M78.9 398.79H69.9M656.9 398.79H665.9M78.9 412.73H69.9M656.9 412.73H665.9M78.9 426.68H69.9M656.9 426.68H665.9M78.9 440.62H69.9M656.9 440.62H665.9M78.9 454.57H69.9M656.9 454.57H665.9M78.9 468.51H69.9M656.9 468.51H665.9M78.9 482.46H69.9M656.9 482.46H665.9M78.9 496.40H69.9M656.9 496.40H665.9M78.9 510.35H69.9M656.9 510.35H665.9" fill="none" stroke="#888888" stroke-width="1.0"/>
<clipPath id="c3"><rect x="78.9" y="540.1" width="578.0" height="139.4"/></clipPath>
<g clip-path="url(#c3)" fill="none" stroke-width="1.3" stroke-linejoin="round" stroke-linecap="butt">
<path d="M101.6 606.5 L104.6 608.4 L108.2 610.4 L113.0 611.3 L119.0 611.3 L123.8 611.6 L128.6 612.0 L133.4 613.2 L138.2 614.4 L143.0 614.0 L146.7 614.0 L150.9 613.4 L155.1 612.2 L159.3 611.3 L164.1 610.4 L168.3 611.3 L171.9 612.5 L173.6 612.8 L177.2 613.7 L180.8 613.7 L184.4 613.2 L188.0 612.8 L191.6 613.7 L195.2 615.2 L198.8 616.8 L202.4 617.3 L206.0 617.3 L209.6 617.6 L213.2 618.0 L216.8 617.0 L220.5 616.1 L224.1 616.8 L227.7 618.0 L231.3 618.8 L234.9 619.2 L238.5 619.4 L242.1 619.7 L245.7 619.7 L248.6 619.2 L252.8 618.0 L256.4 618.5 L260.0 620.0 L264.2 620.9 L268.4 621.8 L272.6 622.4 L276.8 623.6 L281.0 626.1 L285.2 628.8 L289.4 631.5 L293.6 633.6 L297.9 633.9 L302.7 633.9 L307.5 634.1 L312.3 634.8 L317.1 636.0 L321.3 635.7 L324.2 635.1 L328.4 633.6 L332.6 631.7 L336.8 629.3 L341.0 626.9 L345.2 625.5 L349.4 623.6 L353.6 620.9 L357.8 618.2 L362.0 616.1 L366.2 615.2 L370.5 616.1 L374.7 618.5 L378.9 621.8 L383.1 623.6 L387.3 624.8 L391.5 627.3 L395.7 629.3 L399.2 631.5 L403.4 632.7 L407.6 633.3 L411.8 633.6 L416.0 633.6 L420.2 634.1 L424.4 634.8 L428.6 636.3 L433.4 636.3 L438.2 636.5 L443.0 636.9 L447.9 637.5 L452.7 637.5 L457.5 637.5 L462.3 637.5 L465.9 635.7 L469.5 633.6 L474.2 632.4 L478.4 632.1 L483.2 631.5 L487.4 630.3 L491.6 629.3 L495.8 628.5 L499.4 627.3 L503.6 626.1 L507.8 626.7 L512.0 626.9 L516.2 626.4 L520.5 624.8 L524.7 623.0 L528.9 621.2 L533.1 619.4 L537.3 617.0 L541.5 614.0 L545.1 610.8 L548.0 608.9 L551.6 605.0 L555.8 600.8 L560.0 598.1 L564.2 596.6 L568.4 596.6 L572.6 596.6 L576.2 595.4 L580.4 594.2 L584.6 593.6 L588.2 594.2 L592.4 596.0 L596.7 597.6 L600.9 598.4 L605.1 598.4 L610.8 597.0 L614.8 596.0 L618.7 597.0 L622.7 599.3 L626.6 601.5 L629.6 602.7 L632.6 602.9 L635.0 602.5" stroke="#1aff1a"/>
<path d="M101.6 597.2 L105.2 598.4 L109.4 600.0 L114.2 601.4 L119.0 602.4 L123.8 602.9 L128.6 603.6 L133.4 604.8 L138.2 606.0 L141.2 607.4 L144.2 609.8 L147.9 612.5 L151.5 614.6 L155.7 616.4 L159.9 618.5 L164.1 621.6 L168.3 624.2 L171.9 626.4 L173.6 626.4 L177.2 628.1 L180.8 629.1 L185.6 627.9 L190.4 626.7 L195.2 624.8 L200.0 623.3 L204.8 621.6 L209.6 620.0 L214.4 618.8 L219.2 617.6 L224.1 616.8 L228.9 616.4 L233.7 615.6 L238.5 614.6 L242.1 613.2 L245.7 611.3 L248.6 609.6 L252.2 607.4 L255.8 605.3 L259.4 603.2 L263.0 601.7 L266.6 600.5 L270.2 599.0 L273.8 597.2 L277.4 595.4 L281.0 594.2 L285.8 593.6 L290.6 593.0 L295.5 591.6 L300.3 590.0 L305.1 589.2 L309.9 589.2 L314.1 589.7 L318.3 591.2 L321.9 592.8 L324.2 593.6 L328.4 595.2 L332.6 596.9 L336.8 598.4 L341.0 599.6 L345.2 600.0 L349.4 598.4 L353.6 596.6 L357.8 595.2 L362.0 593.6 L366.2 592.1 L370.5 591.2 L375.3 590.6 L380.1 590.4 L384.9 590.0 L387.9 590.6 L390.9 592.1 L394.5 593.6 L399.2 594.8 L403.4 595.7 L408.2 596.4 L413.0 596.4 L417.8 596.4 L422.6 596.6 L426.2 597.2 L429.8 597.6 L433.4 597.2 L437.6 596.6 L441.8 596.0 L446.1 594.8 L450.3 594.0 L455.1 592.8 L459.9 591.8 L464.1 591.2 L468.3 590.0 L471.9 589.2 L473.6 588.8 L477.2 588.2 L480.8 588.5 L485.0 590.4 L489.2 592.1 L493.4 594.0 L497.6 595.7 L501.8 597.2 L505.4 599.6 L508.4 602.0 L511.4 604.4 L515.0 606.5 L518.6 608.0 L522.9 609.8 L527.1 611.0 L531.3 612.2 L535.5 613.7 L539.7 614.9 L543.3 616.1 L546.3 616.1 L548.6 615.2 L552.2 614.0 L555.8 613.2 L560.0 614.0 L564.2 615.6 L568.4 617.0 L572.6 618.2 L576.8 619.7 L581.0 621.6 L585.2 624.0 L589.4 626.4 L593.6 628.8 L597.9 627.9 L602.1 625.5 L606.3 623.0 L609.8 621.7 L613.8 621.0 L617.7 619.6 L621.7 617.6 L625.6 615.6 L629.6 613.1 L632.6 611.4 L635.0 610.1" stroke="#ff1a1a"/>
<path d="M101.6 611.6 L105.2 611.0 L108.2 609.8 L113.0 609.6 L119.0 608.9 L123.8 609.8 L128.6 610.4 L133.4 610.4 L137.0 611.0 L140.0 612.2 L143.6 612.8 L146.7 614.0 L149.7 616.4 L153.3 616.8 L156.9 617.3 L160.5 617.6 L164.1 616.4 L167.7 616.1 L171.9 615.2 L173.6 614.6 L177.2 613.7 L180.8 612.8 L184.4 611.3 L188.0 608.0 L191.6 605.3 L195.2 603.6 L198.8 602.9 L202.4 603.2 L206.0 604.1 L210.8 605.6 L214.4 607.4 L218.0 609.2 L221.7 609.6 L225.3 611.3 L228.9 612.8 L232.5 614.4 L236.1 615.6 L239.7 615.8 L243.3 615.2 L246.9 614.4 L248.6 613.4 L252.2 612.2 L255.8 610.4 L259.4 608.6 L263.0 607.2 L266.6 604.8 L270.2 602.0 L273.8 599.0 L277.4 597.8 L281.0 597.6 L285.8 597.2 L290.6 596.4 L295.5 595.2 L300.3 594.0 L305.1 594.0 L309.9 594.8 L313.5 596.0 L317.1 596.9 L321.9 596.9 L324.2 596.9 L328.4 597.2 L332.6 598.1 L336.8 599.6 L341.0 602.4 L345.2 605.3 L349.4 608.4 L353.0 611.6 L356.6 614.4 L360.8 614.9 L365.0 614.0 L369.2 612.8 L373.5 610.8 L377.7 608.0 L381.9 605.0 L386.1 601.4 L389.7 597.2 L392.7 592.8 L395.7 588.0 L401.0 584.4 L405.8 584.0 L410.0 584.6 L414.2 586.1 L418.4 588.0 L422.0 589.4 L426.2 590.0 L430.4 590.6 L434.0 592.4 L437.6 594.8 L441.2 597.2 L444.8 599.0 L449.1 600.0 L453.9 601.4 L458.1 602.4 L462.3 603.2 L466.5 604.1 L469.5 606.0 L472.5 608.4 L473.0 608.9 L476.6 609.8 L480.8 609.6 L485.0 608.6 L489.2 607.2 L493.4 605.6 L498.2 604.4 L502.4 604.1 L506.6 604.4 L510.8 603.6 L514.4 602.4 L518.0 601.4 L521.1 602.6 L524.7 603.6 L528.9 603.6 L532.5 604.4 L536.7 606.0 L540.9 607.4 L545.1 608.9 L548.6 609.8 L552.8 611.6 L557.0 613.4 L561.2 614.0 L565.4 614.0 L569.6 615.2 L573.8 616.8 L578.0 618.0 L582.2 619.2 L586.4 620.4 L590.6 620.9 L594.2 620.6 L597.9 622.1 L601.5 624.2 L605.7 624.8 L609.8 625.0 L613.8 624.0 L617.7 622.3 L621.7 620.0 L625.6 617.4 L629.6 614.6 L632.6 613.1 L635.0 613.1" stroke="#1f1fff"/>
</g>
<path d="M78.9 540.1H656.9V679.5H78.9ZM78.90 540.1V531.1M78.90 679.5V688.5M82.34 540.1V535.6M82.34 679.5V684.0M85.78 540.1V535.6M85.78 679.5V684.0M89.22 540.1V535.6M89.22 679.5V684.0M92.66 540.1V535.6M92.66 679.5V684.0M96.10 540.1V535.6M96.10 679.5V684.0M99.54 540.1V535.6M99.54 679.5V684.0M102.98 540.1V535.6M102.98 679.5V684.0M106.42 540.1V535.6M106.42 679.5V684.0M109.86 540.1V535.6M109.86 679.5V684.0M113.30 540.1V535.6M113.30 679.5V684.0M116.75 540.1V535.6M116.75 679.5V684.0M120.19 540.1V531.1M120.19 679.5V688.5M123.63 540.1V535.6M123.63 679.5V684.0M127.07 540.1V535.6M127.07 679.5V684.0M130.51 540.1V535.6M130.51 679.5V684.0M133.95 540.1V535.6M133.95 679.5V684.0M137.39 540.1V535.6M137.39 679.5V684.0M140.83 540.1V535.6M140.83 679.5V684.0M144.27 540.1V535.6M144.27 679.5V684.0M147.71 540.1V535.6M147.71 679.5V684.0M151.15 540.1V535.6M151.15 679.5V684.0M154.59 540.1V535.6M154.59 679.5V684.0M158.03 540.1V535.6M158.03 679.5V684.0M161.47 540.1V531.1M161.47 679.5V688.5M164.91 540.1V535.6M164.91 679.5V684.0M168.35 540.1V535.6M168.35 679.5V684.0M171.79 540.1V535.6M171.79 679.5V684.0M175.23 540.1V535.6M175.23 679.5V684.0M178.67 540.1V535.6M178.67 679.5V684.0M182.11 540.1V535.6M182.11 679.5V684.0M185.55 540.1V535.6M185.55 679.5V684.0M189.00 540.1V535.6M189.00 679.5V684.0M192.44 540.1V535.6M192.44 679.5V684.0M195.88 540.1V535.6M195.88 679.5V684.0M199.32 540.1V535.6M199.32 679.5V684.0M202.76 540.1V531.1M202.76 679.5V688.5M206.20 540.1V535.6M206.20 679.5V684.0M209.64 540.1V535.6M209.64 679.5V684.0M213.08 540.1V535.6M213.08 679.5V684.0M216.52 540.1V535.6M216.52 679.5V684.0M219.96 540.1V535.6M219.96 679.5V684.0M223.40 540.1V535.6M223.40 679.5V684.0M226.84 540.1V535.6M226.84 679.5V684.0M230.28 540.1V535.6M230.28 679.5V684.0M233.72 540.1V535.6M233.72 679.5V684.0M237.16 540.1V535.6M237.16 679.5V684.0M240.60 540.1V535.6M240.60 679.5V684.0M244.04 540.1V531.1M244.04 679.5V688.5M247.48 540.1V535.6M247.48 679.5V684.0M250.92 540.1V535.6M250.92 679.5V684.0M254.36 540.1V535.6M254.36 679.5V684.0M257.80 540.1V535.6M257.80 679.5V684.0M261.25 540.1V535.6M261.25 679.5V684.0M264.69 540.1V535.6M264.69 679.5V684.0M268.13 540.1V535.6M268.13 679.5V684.0M271.57 540.1V535.6M271.57 679.5V684.0M275.01 540.1V535.6M275.01 679.5V684.0M278.45 540.1V535.6M278.45 679.5V684.0M281.89 540.1V535.6M281.89 679.5V684.0M285.33 540.1V531.1M285.33 679.5V688.5M288.77 540.1V535.6M288.77 679.5V684.0M292.21 540.1V535.6M292.21 679.5V684.0M295.65 540.1V535.6M295.65 679.5V684.0M299.09 540.1V535.6M299.09 679.5V684.0M302.53 540.1V535.6M302.53 679.5V684.0M305.97 540.1V535.6M305.97 679.5V684.0M309.41 540.1V535.6M309.41 679.5V684.0M312.85 540.1V535.6M312.85 679.5V684.0M316.29 540.1V535.6M316.29 679.5V684.0M319.73 540.1V535.6M319.73 679.5V684.0M323.17 540.1V535.6M323.17 679.5V684.0M326.61 540.1V531.1M326.61 679.5V688.5M330.05 540.1V535.6M330.05 679.5V684.0M333.50 540.1V535.6M333.50 679.5V684.0M336.94 540.1V535.6M336.94 679.5V684.0M340.38 540.1V535.6M340.38 679.5V684.0M343.82 540.1V535.6M343.82 679.5V684.0M347.26 540.1V535.6M347.26 679.5V684.0M350.70 540.1V535.6M350.70 679.5V684.0M354.14 540.1V535.6M354.14 679.5V684.0M357.58 540.1V535.6M357.58 679.5V684.0M361.02 540.1V535.6M361.02 679.5V684.0M364.46 540.1V535.6M364.46 679.5V684.0M367.90 540.1V531.1M367.90 679.5V688.5M371.34 540.1V535.6M371.34 679.5V684.0M374.78 540.1V535.6M374.78 679.5V684.0M378.22 540.1V535.6M378.22 679.5V684.0M381.66 540.1V535.6M381.66 679.5V684.0M385.10 540.1V535.6M385.10 679.5V684.0M388.54 540.1V535.6M388.54 679.5V684.0M391.98 540.1V535.6M391.98 679.5V684.0M395.42 540.1V535.6M395.42 679.5V684.0M398.86 540.1V535.6M398.86 679.5V684.0M402.30 540.1V535.6M402.30 679.5V684.0M405.75 540.1V535.6M405.75 679.5V684.0M409.19 540.1V531.1M409.19 679.5V688.5M412.63 540.1V535.6M412.63 679.5V684.0M416.07 540.1V535.6M416.07 679.5V684.0M419.51 540.1V535.6M419.51 679.5V684.0M422.95 540.1V535.6M422.95 679.5V684.0M426.39 540.1V535.6M426.39 679.5V684.0M429.83 540.1V535.6M429.83 679.5V684.0M433.27 540.1V535.6M433.27 679.5V684.0M436.71 540.1V535.6M436.71 679.5V684.0M440.15 540.1V535.6M440.15 679.5V684.0M443.59 540.1V535.6M443.59 679.5V684.0M447.03 540.1V535.6M447.03 679.5V684.0M450.47 540.1V531.1M450.47 679.5V688.5M453.91 540.1V535.6M453.91 679.5V684.0M457.35 540.1V535.6M457.35 679.5V684.0M460.79 540.1V535.6M460.79 679.5V684.0M464.23 540.1V535.6M464.23 679.5V684.0M467.67 540.1V535.6M467.67 679.5V684.0M471.11 540.1V535.6M471.11 679.5V684.0M474.55 540.1V535.6M474.55 679.5V684.0M478.00 540.1V535.6M478.00 679.5V684.0M481.44 540.1V535.6M481.44 679.5V684.0M484.88 540.1V535.6M484.88 679.5V684.0M488.32 540.1V535.6M488.32 679.5V684.0M491.76 540.1V531.1M491.76 679.5V688.5M495.20 540.1V535.6M495.20 679.5V684.0M498.64 540.1V535.6M498.64 679.5V684.0M502.08 540.1V535.6M502.08 679.5V684.0M505.52 540.1V535.6M505.52 679.5V684.0M508.96 540.1V535.6M508.96 679.5V684.0M512.40 540.1V535.6M512.40 679.5V684.0M515.84 540.1V535.6M515.84 679.5V684.0M519.28 540.1V535.6M519.28 679.5V684.0M522.72 540.1V535.6M522.72 679.5V684.0M526.16 540.1V535.6M526.16 679.5V684.0M529.60 540.1V535.6M529.60 679.5V684.0M533.04 540.1V531.1M533.04 679.5V688.5M536.48 540.1V535.6M536.48 679.5V684.0M539.92 540.1V535.6M539.92 679.5V684.0M543.36 540.1V535.6M543.36 679.5V684.0M546.80 540.1V535.6M546.80 679.5V684.0M550.25 540.1V535.6M550.25 679.5V684.0M553.69 540.1V535.6M553.69 679.5V684.0M557.13 540.1V535.6M557.13 679.5V684.0M560.57 540.1V535.6M560.57 679.5V684.0M564.01 540.1V535.6M564.01 679.5V684.0M567.45 540.1V535.6M567.45 679.5V684.0M570.89 540.1V535.6M570.89 679.5V684.0M574.33 540.1V531.1M574.33 679.5V688.5M577.77 540.1V535.6M577.77 679.5V684.0M581.21 540.1V535.6M581.21 679.5V684.0M584.65 540.1V535.6M584.65 679.5V684.0M588.09 540.1V535.6M588.09 679.5V684.0M591.53 540.1V535.6M591.53 679.5V684.0M594.97 540.1V535.6M594.97 679.5V684.0M598.41 540.1V535.6M598.41 679.5V684.0M601.85 540.1V535.6M601.85 679.5V684.0M605.29 540.1V535.6M605.29 679.5V684.0M608.73 540.1V535.6M608.73 679.5V684.0M612.17 540.1V535.6M612.17 679.5V684.0M615.61 540.1V531.1M615.61 679.5V688.5M619.05 540.1V535.6M619.05 679.5V684.0M622.50 540.1V535.6M622.50 679.5V684.0M625.94 540.1V535.6M625.94 679.5V684.0M629.38 540.1V535.6M629.38 679.5V684.0M632.82 540.1V535.6M632.82 679.5V684.0M636.26 540.1V535.6M636.26 679.5V684.0M639.70 540.1V535.6M639.70 679.5V684.0M643.14 540.1V535.6M643.14 679.5V684.0M646.58 540.1V535.6M646.58 679.5V684.0M650.02 540.1V535.6M650.02 679.5V684.0M653.46 540.1V535.6M653.46 679.5V684.0M656.90 540.1V531.1M656.90 679.5V688.5M78.9 540.10H69.9M656.9 540.10H665.9M78.9 554.05H69.9M656.9 554.05H665.9M78.9 567.99H69.9M656.9 567.99H665.9M78.9 581.94H69.9M656.9 581.94H665.9M78.9 595.88H69.9M656.9 595.88H665.9M78.9 609.83H69.9M656.9 609.83H665.9M78.9 623.77H69.9M656.9 623.77H665.9M78.9 637.72H69.9M656.9 637.72H665.9M78.9 651.66H69.9M656.9 651.66H665.9M78.9 665.61H69.9M656.9 665.61H665.9M78.9 679.55H69.9M656.9 679.55H665.9" fill="none" stroke="#888888" stroke-width="1.0"/>
<path d="M50.10 28.83L49.20 29.17L48.90 29.84L48.90 30.51L49.20 31.18L49.80 31.51L51.00 31.85L51.90 32.18L52.50 32.85L52.80 33.52L52.80 34.53L52.50 35.20L52.20 35.53L51.30 35.87L50.10 35.87L49.20 35.53L48.90 35.20L48.60 34.53L48.60 33.52L48.90 32.85L49.50 32.18L50.40 31.85L51.60 31.51L52.20 31.18L52.50 30.51L52.50 29.84L52.20 29.17L51.30 28.83L50.10 28.83M57.25 28.83L56.35 29.17L55.75 30.17L55.45 31.85L55.45 32.85L55.75 34.53L56.35 35.53L57.25 35.87L57.85 35.87L58.75 35.53L59.35 34.53L59.65 32.85L59.65 31.85L59.35 30.17L58.75 29.17L57.85 28.83L57.25 28.83M62.90 35.20L62.60 35.53L62.90 35.87L63.20 35.53L62.90 35.20M51.60 63.69L48.60 68.38L53.10 68.38M51.60 63.69L51.60 70.73M57.25 63.69L56.35 64.03L55.75 65.03L55.45 66.71L55.45 67.71L55.75 69.39L56.35 70.39L57.25 70.73L57.85 70.73L58.75 70.39L59.35 69.39L59.65 67.71L59.65 66.71L59.35 65.03L58.75 64.03L57.85 63.69L57.25 63.69M62.90 70.06L62.60 70.39L62.90 70.73L63.20 70.39L62.90 70.06M57.25 98.56L56.35 98.89L55.75 99.90L55.45 101.57L55.45 102.58L55.75 104.25L56.35 105.26L57.25 105.59L57.85 105.59L58.75 105.26L59.35 104.25L59.65 102.58L59.65 101.57L59.35 99.90L58.75 98.89L57.85 98.56L57.25 98.56M62.90 104.92L62.60 105.26L62.90 105.59L63.20 105.26L62.90 104.92M40.80 137.44L45.60 137.44M51.60 133.42L48.60 138.11L53.10 138.11M51.60 133.42L51.60 140.45M57.25 133.42L56.35 133.75L55.75 134.76L55.45 136.43L55.45 137.44L55.75 139.11L56.35 140.12L57.25 140.45L57.85 140.45L58.75 140.12L59.35 139.11L59.65 137.44L59.65 136.43L59.35 134.76L58.75 133.75L57.85 133.42L57.25 133.42M62.90 139.78L62.60 140.12L62.90 140.45L63.20 140.12L62.90 139.78M40.80 172.30L45.60 172.30M50.10 168.28L49.20 168.62L48.90 169.29L48.90 169.96L49.20 170.63L49.80 170.96L51.00 171.30L51.90 171.63L52.50 172.30L52.80 172.97L52.80 173.98L52.50 174.65L52.20 174.98L51.30 175.32L50.10 175.32L49.20 174.98L48.90 174.65L48.60 173.98L48.60 172.97L48.90 172.30L49.50 171.63L50.40 171.30L51.60 170.96L52.20 170.63L52.50 169.96L52.50 169.29L52.20 168.62L51.30 168.28L50.10 168.28M57.25 168.28L56.35 168.62L55.75 169.62L55.45 171.30L55.45 172.30L55.75 173.98L56.35 174.98L57.25 175.32L57.85 175.32L58.75 174.98L59.35 173.98L59.65 172.30L59.65 171.30L59.35 169.62L58.75 168.62L57.85 168.28L57.25 168.28M62.90 174.65L62.60 174.98L62.90 175.32L63.20 174.98L62.90 174.65M43.65 211.98L42.75 212.31L42.15 213.32L41.85 214.99L41.85 216.00L42.15 217.67L42.75 218.68L43.65 219.01L44.25 219.01L45.15 218.68L45.75 217.67L46.05 216.00L46.05 214.99L45.75 213.32L45.15 212.31L44.25 211.98L43.65 211.98M49.30 218.34L49.00 218.68L49.30 219.01L49.60 218.68L49.30 218.34M53.65 211.98L52.75 212.31L52.45 212.98L52.45 213.65L52.75 214.32L53.35 214.66L54.55 214.99L55.45 215.33L56.05 216.00L56.35 216.67L56.35 217.67L56.05 218.34L55.75 218.68L54.85 219.01L53.65 219.01L52.75 218.68L52.45 218.34L52.15 217.67L52.15 216.67L52.45 216.00L53.05 215.33L53.95 214.99L55.15 214.66L55.75 214.32L56.05 213.65L56.05 212.98L55.75 212.31L54.85 211.98L53.65 211.98M60.80 211.98L59.90 212.31L59.30 213.32L59.00 214.99L59.00 216.00L59.30 217.67L59.90 218.68L60.80 219.01L61.40 219.01L62.30 218.68L62.90 217.67L63.20 216.00L63.20 214.99L62.90 213.32L62.30 212.31L61.40 211.98L60.80 211.98M43.65 239.87L42.75 240.20L42.15 241.21L41.85 242.88L41.85 243.89L42.15 245.56L42.75 246.57L43.65 246.90L44.25 246.90L45.15 246.57L45.75 245.56L46.05 243.89L46.05 242.88L45.75 241.21L45.15 240.20L44.25 239.87L43.65 239.87M49.30 246.23L49.00 246.57L49.30 246.90L49.60 246.57L49.30 246.23M55.15 239.87L52.15 244.56L56.65 244.56M55.15 239.87L55.15 246.90M60.80 239.87L59.90 240.20L59.30 241.21L59.00 242.88L59.00 243.89L59.30 245.56L59.90 246.57L60.80 246.90L61.40 246.90L62.30 246.57L62.90 245.56L63.20 243.89L63.20 242.88L62.90 241.21L62.30 240.20L61.40 239.87L60.80 239.87M43.65 267.76L42.75 268.09L42.15 269.10L41.85 270.77L41.85 271.78L42.15 273.45L42.75 274.46L43.65 274.79L44.25 274.79L45.15 274.46L45.75 273.45L46.05 271.78L46.05 270.77L45.75 269.10L45.15 268.09L44.25 267.76L43.65 267.76M49.30 274.12L49.00 274.46L49.30 274.79L49.60 274.46L49.30 274.12M53.95 267.76L53.05 268.09L52.45 269.10L52.15 270.77L52.15 271.78L52.45 273.45L53.05 274.46L53.95 274.79L54.55 274.79L55.45 274.46L56.05 273.45L56.35 271.78L56.35 270.77L56.05 269.10L55.45 268.09L54.55 267.76L53.95 267.76M60.80 267.76L59.90 268.09L59.30 269.10L59.00 270.77L59.00 271.78L59.30 273.45L59.90 274.46L60.80 274.79L61.40 274.79L62.30 274.46L62.90 273.45L63.20 271.78L63.20 270.77L62.90 269.10L62.30 268.09L61.40 267.76L60.80 267.76M34.05 299.67L38.85 299.67M43.65 295.65L42.75 295.98L42.15 296.99L41.85 298.66L41.85 299.67L42.15 301.34L42.75 302.35L43.65 302.68L44.25 302.68L45.15 302.35L45.75 301.34L46.05 299.67L46.05 298.66L45.75 296.99L45.15 295.98L44.25 295.65L43.65 295.65M49.30 302.01L49.00 302.35L49.30 302.68L49.60 302.35L49.30 302.01M55.15 295.65L52.15 300.34L56.65 300.34M55.15 295.65L55.15 302.68M60.80 295.65L59.90 295.98L59.30 296.99L59.00 298.66L59.00 299.67L59.30 301.34L59.90 302.35L60.80 302.68L61.40 302.68L62.30 302.35L62.90 301.34L63.20 299.67L63.20 298.66L62.90 296.99L62.30 295.98L61.40 295.65L60.80 295.65M34.05 327.56L38.85 327.56M43.65 323.54L42.75 323.87L42.15 324.88L41.85 326.55L41.85 327.56L42.15 329.23L42.75 330.24L43.65 330.57L44.25 330.57L45.15 330.24L45.75 329.23L46.05 327.56L46.05 326.55L45.75 324.88L45.15 323.87L44.25 323.54L43.65 323.54M49.30 329.90L49.00 330.24L49.30 330.57L49.60 330.24L49.30 329.90M53.65 323.54L52.75 323.87L52.45 324.54L52.45 325.21L52.75 325.88L53.35 326.22L54.55 326.55L55.45 326.89L56.05 327.56L56.35 328.23L56.35 329.23L56.05 329.90L55.75 330.24L54.85 330.57L53.65 330.57L52.75 330.24L52.45 329.90L52.15 329.23L52.15 328.23L52.45 327.56L53.05 326.89L53.95 326.55L55.15 326.22L55.75 325.88L56.05 325.21L56.05 324.54L55.75 323.87L54.85 323.54L53.65 323.54M60.80 323.54L59.90 323.87L59.30 324.88L59.00 326.55L59.00 327.56L59.30 329.23L59.90 330.24L60.80 330.57L61.40 330.57L62.30 330.24L62.90 329.23L63.20 327.56L63.20 326.55L62.90 324.88L62.30 323.87L61.40 323.54L60.80 323.54M51.60 381.18L48.60 385.87L53.10 385.87M51.60 381.18L51.60 388.21M57.25 381.18L56.35 381.51L55.75 382.52L55.45 384.19L55.45 385.20L55.75 386.87L56.35 387.88L57.25 388.21L57.85 388.21L58.75 387.88L59.35 386.87L59.65 385.20L59.65 384.19L59.35 382.52L58.75 381.51L57.85 381.18L57.25 381.18M62.90 387.54L62.60 387.88L62.90 388.21L63.20 387.88L62.90 387.54M48.90 410.74L48.90 410.41L49.20 409.74L49.50 409.40L50.10 409.07L51.30 409.07L51.90 409.40L52.20 409.74L52.50 410.41L52.50 411.08L52.20 411.75L51.60 412.75L48.60 416.10L52.80 416.10M57.25 409.07L56.35 409.40L55.75 410.41L55.45 412.08L55.45 413.09L55.75 414.76L56.35 415.77L57.25 416.10L57.85 416.10L58.75 415.77L59.35 414.76L59.65 413.09L59.65 412.08L59.35 410.41L58.75 409.40L57.85 409.07L57.25 409.07M62.90 415.43L62.60 415.77L62.90 416.10L63.20 415.77L62.90 415.43M57.25 436.96L56.35 437.29L55.75 438.30L55.45 439.97L55.45 440.98L55.75 442.65L56.35 443.66L57.25 443.99L57.85 443.99L58.75 443.66L59.35 442.65L59.65 440.98L59.65 439.97L59.35 438.30L58.75 437.29L57.85 436.96L57.25 436.96M62.90 443.32L62.60 443.66L62.90 443.99L63.20 443.66L62.90 443.32M40.80 468.87L45.60 468.87M48.90 466.52L48.90 466.19L49.20 465.52L49.50 465.18L50.10 464.85L51.30 464.85L51.90 465.18L52.20 465.52L52.50 466.19L52.50 466.86L52.20 467.53L51.60 468.53L48.60 471.88L52.80 471.88M57.25 464.85L56.35 465.18L55.75 466.19L55.45 467.86L55.45 468.87L55.75 470.54L56.35 471.55L57.25 471.88L57.85 471.88L58.75 471.55L59.35 470.54L59.65 468.87L59.65 467.86L59.35 466.19L58.75 465.18L57.85 464.85L57.25 464.85M62.90 471.21L62.60 471.55L62.90 471.88L63.20 471.55L62.90 471.21M40.80 496.76L45.60 496.76M51.60 492.74L48.60 497.43L53.10 497.43M51.60 492.74L51.60 499.77M57.25 492.74L56.35 493.07L55.75 494.08L55.45 495.75L55.45 496.76L55.75 498.43L56.35 499.44L57.25 499.77L57.85 499.77L58.75 499.44L59.35 498.43L59.65 496.76L59.65 495.75L59.35 494.08L58.75 493.07L57.85 492.74L57.25 492.74M62.90 499.10L62.60 499.44L62.90 499.77L63.20 499.44L62.90 499.10M51.70 550.38L48.70 555.07L53.20 555.07M51.70 550.38L51.70 557.41M56.15 556.74L55.85 557.08L56.15 557.41L56.45 557.08L56.15 556.74M60.80 550.38L59.90 550.71L59.30 551.72L59.00 553.39L59.00 554.40L59.30 556.07L59.90 557.08L60.80 557.41L61.40 557.41L62.30 557.08L62.90 556.07L63.20 554.40L63.20 553.39L62.90 551.72L62.30 550.71L61.40 550.38L60.80 550.38M49.00 579.94L49.00 579.61L49.30 578.94L49.60 578.60L50.20 578.27L51.40 578.27L52.00 578.60L52.30 578.94L52.60 579.61L52.60 580.28L52.30 580.95L51.70 581.95L48.70 585.30L52.90 585.30M56.15 584.63L55.85 584.97L56.15 585.30L56.45 584.97L56.15 584.63M60.80 578.27L59.90 578.60L59.30 579.61L59.00 581.28L59.00 582.29L59.30 583.96L59.90 584.97L60.80 585.30L61.40 585.30L62.30 584.97L62.90 583.96L63.20 582.29L63.20 581.28L62.90 579.61L62.30 578.60L61.40 578.27L60.80 578.27M50.50 606.16L49.60 606.49L49.00 607.50L48.70 609.17L48.70 610.18L49.00 611.85L49.60 612.86L50.50 613.19L51.10 613.19L52.00 612.86L52.60 611.85L52.90 610.18L52.90 609.17L52.60 607.50L52.00 606.49L51.10 606.16L50.50 606.16M56.15 612.52L55.85 612.86L56.15 613.19L56.45 612.86L56.15 612.52M60.80 606.16L59.90 606.49L59.30 607.50L59.00 609.17L59.00 610.18L59.30 611.85L59.90 612.86L60.80 613.19L61.40 613.19L62.30 612.86L62.90 611.85L63.20 610.18L63.20 609.17L62.90 607.50L62.30 606.49L61.40 606.16L60.80 606.16M40.90 638.07L45.70 638.07M49.00 635.72L49.00 635.39L49.30 634.72L49.60 634.38L50.20 634.05L51.40 634.05L52.00 634.38L52.30 634.72L52.60 635.39L52.60 636.06L52.30 636.73L51.70 637.73L48.70 641.08L52.90 641.08M56.15 640.41L55.85 640.75L56.15 641.08L56.45 640.75L56.15 640.41M60.80 634.05L59.90 634.38L59.30 635.39L59.00 637.06L59.00 638.07L59.30 639.74L59.90 640.75L60.80 641.08L61.40 641.08L62.30 640.75L62.90 639.74L63.20 638.07L63.20 637.06L62.90 635.39L62.30 634.38L61.40 634.05L60.80 634.05M40.90 665.96L45.70 665.96M51.70 661.94L48.70 666.63L53.20 666.63M51.70 661.94L51.70 668.97M56.15 668.30L55.85 668.64L56.15 668.97L56.45 668.64L56.15 668.30M60.80 661.94L59.90 662.27L59.30 663.28L59.00 664.95L59.00 665.96L59.30 667.63L59.90 668.64L60.80 668.97L61.40 668.97L62.30 668.64L62.90 667.63L63.20 665.96L63.20 664.95L62.90 663.28L62.30 662.27L61.40 661.94L60.80 661.94" fill="none" stroke="#868686" stroke-width="1.00" stroke-linejoin="round" stroke-linecap="round"/>
<path d="M123.78 698.81L123.78 698.35L124.19 697.42L124.60 696.96L125.41 696.50L127.04 696.50L127.85 696.96L128.26 697.42L128.67 698.35L128.67 699.27L128.26 700.20L127.45 701.58L123.38 706.20L129.07 706.20M135.42 696.50L134.20 696.96L133.38 698.35L132.98 700.66L132.98 702.04L133.38 704.35L134.20 705.74L135.42 706.20L136.23 706.20L137.45 705.74L138.27 704.35L138.67 702.04L138.67 700.66L138.27 698.35L137.45 696.96L136.23 696.50L135.42 696.50M145.02 696.50L143.80 696.96L142.98 698.35L142.58 700.66L142.58 702.04L142.98 704.35L143.80 705.74L145.02 706.20L145.83 706.20L147.05 705.74L147.87 704.35L148.27 702.04L148.27 700.66L147.87 698.35L147.05 696.96L145.83 696.50L145.02 696.50M156.25 696.50L152.18 702.97L158.28 702.97M156.25 696.50L156.25 706.20M206.56 698.81L206.56 698.35L206.97 697.42L207.37 696.96L208.19 696.50L209.81 696.50L210.63 696.96L211.03 697.42L211.44 698.35L211.44 699.27L211.03 700.20L210.22 701.58L206.15 706.20L211.85 706.20M218.19 696.50L216.97 696.96L216.16 698.35L215.75 700.66L215.75 702.04L216.16 704.35L216.97 705.74L218.19 706.20L219.01 706.20L220.23 705.74L221.04 704.35L221.45 702.04L221.45 700.66L221.04 698.35L220.23 696.96L219.01 696.50L218.19 696.50M227.79 696.50L226.57 696.96L225.76 698.35L225.35 700.66L225.35 702.04L225.76 704.35L226.57 705.74L227.79 706.20L228.61 706.20L229.83 705.74L230.64 704.35L231.05 702.04L231.05 700.66L230.64 698.35L229.83 696.96L228.61 696.50L227.79 696.50M240.24 697.89L239.84 696.96L238.61 696.50L237.80 696.50L236.58 696.96L235.77 698.35L235.36 700.66L235.36 702.97L235.77 704.82L236.58 705.74L237.80 706.20L238.21 706.20L239.43 705.74L240.24 704.82L240.65 703.43L240.65 702.97L240.24 701.58L239.43 700.66L238.21 700.20L237.80 700.20L236.58 700.66L235.77 701.58L235.36 702.97M289.13 698.81L289.13 698.35L289.54 697.42L289.94 696.96L290.76 696.50L292.39 696.50L293.20 696.96L293.61 697.42L294.01 698.35L294.01 699.27L293.61 700.20L292.79 701.58L288.72 706.20L294.42 706.20M300.76 696.50L299.54 696.96L298.73 698.35L298.32 700.66L298.32 702.04L298.73 704.35L299.54 705.74L300.76 706.20L301.58 706.20L302.80 705.74L303.61 704.35L304.02 702.04L304.02 700.66L303.61 698.35L302.80 696.96L301.58 696.50L300.76 696.50M310.36 696.50L309.14 696.96L308.33 698.35L307.92 700.66L307.92 702.04L308.33 704.35L309.14 705.74L310.36 706.20L311.18 706.20L312.40 705.74L313.21 704.35L313.62 702.04L313.62 700.66L313.21 698.35L312.40 696.96L311.18 696.50L310.36 696.50M319.56 696.50L318.34 696.96L317.93 697.89L317.93 698.81L318.34 699.73L319.15 700.20L320.78 700.66L322.00 701.12L322.81 702.04L323.22 702.97L323.22 704.35L322.81 705.28L322.41 705.74L321.19 706.20L319.56 706.20L318.34 705.74L317.93 705.28L317.52 704.35L317.52 702.97L317.93 702.04L318.74 701.12L319.96 700.66L321.59 700.20L322.41 699.73L322.81 698.81L322.81 697.89L322.41 696.96L321.19 696.50L319.56 696.50M371.70 698.81L371.70 698.35L372.11 697.42L372.51 696.96L373.33 696.50L374.96 696.50L375.77 696.96L376.18 697.42L376.58 698.35L376.58 699.27L376.18 700.20L375.36 701.58L371.29 706.20L376.99 706.20M383.34 696.50L382.11 696.96L381.30 698.35L380.89 700.66L380.89 702.04L381.30 704.35L382.11 705.74L383.34 706.20L384.15 706.20L385.37 705.74L386.18 704.35L386.59 702.04L386.59 700.66L386.18 698.35L385.37 696.96L384.15 696.50L383.34 696.50M391.71 698.35L392.53 697.89L393.75 696.50L393.75 706.20M402.54 696.50L401.31 696.96L400.50 698.35L400.09 700.66L400.09 702.04L400.50 704.35L401.31 705.74L402.54 706.20L403.35 706.20L404.57 705.74L405.38 704.35L405.79 702.04L405.79 700.66L405.38 698.35L404.57 696.96L403.35 696.50L402.54 696.50M454.27 698.81L454.27 698.35L454.68 697.42L455.09 696.96L455.90 696.50L457.53 696.50L458.34 696.96L458.75 697.42L459.16 698.35L459.16 699.27L458.75 700.20L457.94 701.58L453.87 706.20L459.56 706.20M465.91 696.50L464.69 696.96L463.87 698.35L463.47 700.66L463.47 702.04L463.87 704.35L464.69 705.74L465.91 706.20L466.72 706.20L467.94 705.74L468.76 704.35L469.16 702.04L469.16 700.66L468.76 698.35L467.94 696.96L466.72 696.50L465.91 696.50M474.29 698.35L475.10 697.89L476.32 696.50L476.32 706.20M483.07 698.81L483.07 698.35L483.48 697.42L483.89 696.96L484.70 696.50L486.33 696.50L487.14 696.96L487.55 697.42L487.96 698.35L487.96 699.27L487.55 700.20L486.74 701.58L482.67 706.20L488.36 706.20M536.64 698.81L536.64 698.35L537.05 697.42L537.45 696.96L538.27 696.50L539.90 696.50L540.71 696.96L541.12 697.42L541.52 698.35L541.52 699.27L541.12 700.20L540.30 701.58L536.23 706.20L541.93 706.20M548.28 696.50L547.05 696.96L546.24 698.35L545.83 700.66L545.83 702.04L546.24 704.35L547.05 705.74L548.28 706.20L549.09 706.20L550.31 705.74L551.12 704.35L551.53 702.04L551.53 700.66L551.12 698.35L550.31 696.96L549.09 696.50L548.28 696.50M556.65 698.35L557.47 697.89L558.69 696.50L558.69 706.20M569.10 696.50L565.03 702.97L571.14 702.97M569.10 696.50L569.10 706.20M619.42 698.81L619.42 698.35L619.82 697.42L620.23 696.96L621.04 696.50L622.67 696.50L623.49 696.96L623.89 697.42L624.30 698.35L624.30 699.27L623.89 700.20L623.08 701.58L619.01 706.20L624.71 706.20M631.05 696.50L629.83 696.96L629.02 698.35L628.61 700.66L628.61 702.04L629.02 704.35L629.83 705.74L631.05 706.20L631.86 706.20L633.09 705.74L633.90 704.35L634.31 702.04L634.31 700.66L633.90 698.35L633.09 696.96L631.86 696.50L631.05 696.50M639.43 698.35L640.24 697.89L641.46 696.50L641.46 706.20M653.10 697.89L652.69 696.96L651.47 696.50L650.66 696.50L649.44 696.96L648.62 698.35L648.22 700.66L648.22 702.97L648.62 704.82L649.44 705.74L650.66 706.20L651.06 706.20L652.29 705.74L653.10 704.82L653.51 703.43L653.51 702.97L653.10 701.58L652.29 700.66L651.06 700.20L650.66 700.20L649.44 700.66L648.62 701.58L648.22 702.97" fill="none" stroke="#868686" stroke-width="1.00" stroke-linejoin="round" stroke-linecap="round"/>
<path d="M9.70 166.70L22.30 166.70M9.70 166.70L9.70 161.30L10.30 159.50L10.90 158.90L12.10 158.30L13.90 158.30L15.10 158.90L15.70 159.50L16.30 161.30L16.30 166.70M9.70 150.93L10.30 152.13L11.50 153.33L12.70 153.93L14.50 154.53L17.50 154.53L19.30 153.93L20.50 153.33L21.70 152.13L22.30 150.93L22.30 148.53L21.70 147.33L20.50 146.13L19.30 145.53L17.50 144.93L14.50 144.93L12.70 145.53L11.50 146.13L10.30 147.33L9.70 148.53L9.70 150.93M12.70 132.06L11.50 132.66L10.30 133.86L9.70 135.06L9.70 137.46L10.30 138.66L11.50 139.86L12.70 140.46L14.50 141.06L17.50 141.06L19.30 140.46L20.50 139.86L21.70 138.66L22.30 137.46L22.30 135.06L21.70 133.86L20.50 132.66L19.30 132.06M7.30 112.60L8.50 113.80L10.30 115.00L12.70 116.20L15.70 116.80L18.10 116.80L21.10 116.20L23.50 115.00L25.30 113.80L26.50 112.60M13.90 108.83L22.30 108.83M16.30 108.83L14.50 107.03L13.90 105.83L13.90 104.03L14.50 102.83L16.30 102.23L22.30 102.23M16.30 102.23L14.50 100.43L13.90 99.23L13.90 97.43L14.50 96.23L16.30 95.63L22.30 95.63M13.90 84.09L23.50 84.09L25.30 84.69L25.90 85.29L26.50 86.49L26.50 88.29L25.90 89.49M15.70 84.09L14.50 85.29L13.90 86.49L13.90 88.29L14.50 89.49L15.70 90.69L17.50 91.29L18.70 91.29L20.50 90.69L21.70 89.49L22.30 88.29L22.30 86.49L21.70 85.29L20.50 84.09M7.30 69.10L26.50 79.90M13.90 65.68L22.30 65.68M16.30 65.68L14.50 63.88L13.90 62.68L13.90 60.88L14.50 59.68L16.30 59.08L22.30 59.08M16.30 59.08L14.50 57.28L13.90 56.08L13.90 54.28L14.50 53.08L16.30 52.48L22.30 52.48M5.01 47.67L5.01 42.70L8.62 45.41L8.62 44.06L9.08 43.15L9.53 42.70L10.88 42.25L11.79 42.25L13.14 42.70L14.05 43.60L14.50 44.96L14.50 46.32L14.05 47.67L13.60 48.12L12.69 48.58M7.30 38.63L8.50 37.43L10.30 36.23L12.70 35.03L15.70 34.43L18.10 34.43L21.10 35.03L23.50 36.23L25.30 37.43L26.50 38.63M12.70 323.00L11.50 323.60L10.30 324.80L9.70 326.00L9.70 328.40L10.30 329.60L11.50 330.80L12.70 331.40L14.50 332.00L17.50 332.00L19.30 331.40L20.50 330.80L21.70 329.60L22.30 328.40L22.30 326.00L21.70 324.80L20.50 323.60L19.30 323.00M9.70 318.44L22.30 318.44M16.30 318.44L14.50 316.64L13.90 315.44L13.90 313.64L14.50 312.44L16.30 311.84L22.30 311.84M9.70 306.65L22.30 306.65M7.30 286.96L8.50 288.16L10.30 289.36L12.70 290.56L15.70 291.16L18.10 291.16L21.10 290.56L23.50 289.36L25.30 288.16L26.50 286.96M13.90 283.19L22.30 283.19M16.30 283.19L14.50 281.39L13.90 280.19L13.90 278.39L14.50 277.19L16.30 276.59L22.30 276.59M16.30 276.59L14.50 274.79L13.90 273.59L13.90 271.79L14.50 270.59L16.30 269.99L22.30 269.99M13.90 258.44L23.50 258.44L25.30 259.04L25.90 259.64L26.50 260.84L26.50 262.64L25.90 263.84M15.70 258.44L14.50 259.64L13.90 260.84L13.90 262.64L14.50 263.84L15.70 265.04L17.50 265.64L18.70 265.64L20.50 265.04L21.70 263.84L22.30 262.64L22.30 260.84L21.70 259.64L20.50 258.44M7.30 243.46L26.50 254.26M13.90 240.03L22.30 240.03M16.30 240.03L14.50 238.23L13.90 237.03L13.90 235.23L14.50 234.03L16.30 233.43L22.30 233.43M16.30 233.43L14.50 231.63L13.90 230.43L13.90 228.63L14.50 227.43L16.30 226.83L22.30 226.83M5.01 222.03L5.01 217.06L8.62 219.77L8.62 218.41L9.08 217.51L9.53 217.06L10.88 216.60L11.79 216.60L13.14 217.06L14.05 217.96L14.50 219.32L14.50 220.67L14.05 222.03L13.60 222.48L12.69 222.93M7.30 212.99L8.50 211.79L10.30 210.59L12.70 209.39L15.70 208.79L18.10 208.79L21.10 209.39L23.50 210.59L25.30 211.79L26.50 212.99M9.70 477.80L22.30 477.80M9.70 477.80L9.70 472.40L10.30 470.60L10.90 470.00L12.10 469.40L13.90 469.40L15.10 470.00L15.70 470.60L16.30 472.40L16.30 477.80M9.70 462.03L10.30 463.23L11.50 464.43L12.70 465.03L14.50 465.63L17.50 465.63L19.30 465.03L20.50 464.43L21.70 463.23L22.30 462.03L22.30 459.63L21.70 458.43L20.50 457.23L19.30 456.63L17.50 456.03L14.50 456.03L12.70 456.63L11.50 457.23L10.30 458.43L9.70 459.63L9.70 462.03M12.70 443.16L11.50 443.76L10.30 444.96L9.70 446.16L9.70 448.56L10.30 449.76L11.50 450.96L12.70 451.56L14.50 452.16L17.50 452.16L19.30 451.56L20.50 450.96L21.70 449.76L22.30 448.56L22.30 446.16L21.70 444.96L20.50 443.76L19.30 443.16M7.30 429.00L26.50 439.80M12.70 417.17L11.50 417.77L10.30 418.97L9.70 420.17L9.70 422.57L10.30 423.77L11.50 424.97L12.70 425.57L14.50 426.17L17.50 426.17L19.30 425.57L20.50 424.97L21.70 423.77L22.30 422.57L22.30 420.17L21.70 418.97L20.50 417.77L19.30 417.17M9.70 412.61L22.30 412.61M16.30 412.61L14.50 410.81L13.90 409.61L13.90 407.81L14.50 406.61L16.30 406.01L22.30 406.01M9.70 400.82L22.30 400.82M9.70 638.60L22.30 638.60M13.90 633.80L22.30 633.80M16.30 633.80L14.50 632.00L13.90 630.80L13.90 629.00L14.50 627.80L16.30 627.20L22.30 627.20M9.70 615.93L22.30 615.93M15.70 615.93L14.50 617.13L13.90 618.33L13.90 620.13L14.50 621.33L15.70 622.53L17.50 623.13L18.70 623.13L20.50 622.53L21.70 621.33L22.30 620.13L22.30 618.33L21.70 617.13L20.50 615.93M9.70 611.14L10.30 610.54L9.70 609.94L9.10 610.54L9.70 611.14M13.90 610.54L22.30 610.54M15.70 599.54L14.50 600.74L13.90 601.94L13.90 603.74L14.50 604.94L15.70 606.14L17.50 606.74L18.70 606.74L20.50 606.14L21.70 604.94L22.30 603.74L22.30 601.94L21.70 600.74L20.50 599.54M17.50 595.52L17.50 588.32L16.30 588.32L15.10 588.92L14.50 589.52L13.90 590.72L13.90 592.52L14.50 593.72L15.70 594.92L17.50 595.52L18.70 595.52L20.50 594.92L21.70 593.72L22.30 592.52L22.30 590.72L21.70 589.52L20.50 588.32M15.70 578.23L14.50 578.83L13.90 580.63L13.90 582.43L14.50 584.23L15.70 584.83L16.90 584.23L17.50 583.03L18.10 580.03L18.70 578.83L19.90 578.23L20.50 578.23L21.70 578.83L22.30 580.63L22.30 582.43L21.70 584.23L20.50 584.83" fill="none" stroke="#969696" stroke-width="1.00" stroke-linejoin="round" stroke-linecap="round"/>
<path d="M4.70 0.15Q-3.50 9.85 4.70 19.55M20.70 0.15Q29.60 9.85 20.70 19.55M9.0 8.4C9.8 6.6 14.6 5.6 15.4 8.3L15.6 14.2C15.7 15.0 16.3 15.3 17.2 15.4M15.5 10.0C12.0 10.6 8.3 11.2 8.3 13.4C8.3 15.7 11.6 16.3 13.1 15.5C14.3 14.9 15.2 14.2 15.6 13.4M4.70 183.30Q-3.50 193.00 4.70 202.70M20.70 183.30Q29.60 193.00 20.70 202.70M7.4 185.6L9.5 185.8L9.5 198.9M9.5 191.8C10.4 190.2 11.6 189.8 12.7 189.8C15.4 189.8 16.9 191.8 16.9 194.3C16.9 196.9 15.2 198.9 12.6 198.9C11.3 198.9 10.2 198.3 9.5 197.5M4.80 352.40Q-3.40 362.10 4.80 371.80M20.30 352.40Q29.20 362.10 20.30 371.80M16.2 360.9C15.6 359.6 14.2 359.0 12.7 359.0C10.2 359.0 8.4 360.9 8.4 363.5C8.4 366.2 10.2 368.3 12.7 368.3C14.6 368.3 16.0 367.3 16.8 365.9M15.6 361.2L16.6 361.4M4.70 521.65Q-3.50 531.35 4.70 541.05M20.70 521.65Q29.60 531.35 20.70 541.05M13.5 524.2L15.6 524.2L15.7 537.1L17.7 537.2M15.6 529.8C14.8 528.6 13.6 528.0 12.3 528.0C9.8 528.0 8.2 530.0 8.2 532.6C8.2 535.3 9.9 537.3 12.2 537.3C13.6 537.3 14.8 536.6 15.6 535.8" fill="none" stroke="#5a5a5a" stroke-width="1.0" stroke-linejoin="round" stroke-linecap="round"/>
<path d="M4.70 0.15Q-3.90 9.85 4.70 19.55Q-2.30 9.85 4.70 0.15ZM20.70 0.15Q30.00 9.85 20.70 19.55Q28.40 9.85 20.70 0.15ZM4.70 183.30Q-3.90 193.00 4.70 202.70Q-2.30 193.00 4.70 183.30ZM20.70 183.30Q30.00 193.00 20.70 202.70Q28.40 193.00 20.70 183.30ZM4.80 352.40Q-3.80 362.10 4.80 371.80Q-2.20 362.10 4.80 352.40ZM20.30 352.40Q29.60 362.10 20.30 371.80Q28.00 362.10 20.30 352.40ZM4.70 521.65Q-3.90 531.35 4.70 541.05Q-2.30 531.35 4.70 521.65ZM20.70 521.65Q30.00 531.35 20.70 541.05Q28.40 531.35 20.70 521.65Z" fill="#5a5a5a" stroke="none"/>
</svg></body></html>
